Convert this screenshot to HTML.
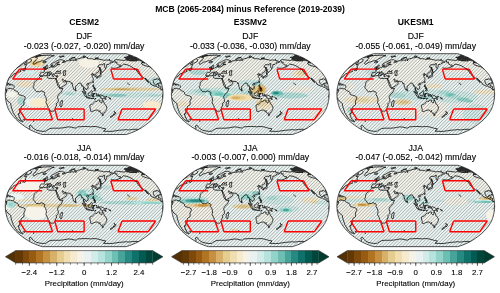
<!DOCTYPE html>
<html><head><meta charset="utf-8"><title>MCB precipitation</title>
<style>
html,body{margin:0;padding:0;background:#fff;width:500px;height:293px;overflow:hidden}
svg{display:block}
text{font-family:"Liberation Sans",Arial,sans-serif;fill:#000}
.t0{font-size:8.6px;font-weight:bold;text-anchor:middle}
.th{font-size:8.6px;font-weight:bold;text-anchor:middle}
.ts{font-size:8.72px;text-anchor:middle;stroke:#000;stroke-width:0.12px}
.tl{font-size:7.9px;text-anchor:middle;stroke:#000;stroke-width:0.1px}
</style></head><body>
<svg width="500" height="293" viewBox="0 0 500 293">
<defs>
<filter id="bl" x="-20%" y="-50%" width="140%" height="200%"><feGaussianBlur stdDeviation="0.7"/></filter>
<path id="bnd" d="M41.99 -40.4L43.57 -39.92L45.15 -39.43L47.08 -38.69L49.02 -37.95L51.07 -37.03L53.12 -36.1L54.91 -35.09L56.7 -34.08L58.32 -33L59.94 -31.93L61.47 -30.8L63.01 -29.68L64.45 -28.51L65.88 -27.35L67.18 -26.15L68.48 -24.95L69.59 -23.73L70.71 -22.51L71.71 -21.27L72.71 -20.03L73.55 -18.78L74.38 -17.53L75.06 -16.28L75.74 -15.03L76.26 -13.78L76.77 -12.52L77.13 -11.27L77.5 -10.02L77.8 -8.77L78.11 -7.51L78.32 -6.26L78.54 -5.01L78.66 -3.76L78.79 -2.5L78.84 -1.25L78.9 0L78.84 1.25L78.79 2.5L78.66 3.76L78.54 5.01L78.32 6.26L78.11 7.51L77.8 8.77L77.5 10.02L77.13 11.27L76.77 12.52L76.26 13.78L75.74 15.03L75.06 16.28L74.38 17.53L73.55 18.78L72.71 20.03L71.71 21.27L70.71 22.51L69.59 23.73L68.48 24.95L67.18 26.15L65.88 27.35L64.45 28.51L63.01 29.68L61.47 30.8L59.94 31.93L58.32 33L56.7 34.08L54.91 35.09L53.12 36.1L51.07 37.03L49.02 37.95L47.08 38.69L45.15 39.43L43.57 39.92L41.99 40.4L-41.99 40.4L-43.57 39.92L-45.15 39.43L-47.08 38.69L-49.02 37.95L-51.07 37.03L-53.12 36.1L-54.91 35.09L-56.7 34.08L-58.32 33L-59.94 31.93L-61.47 30.8L-63.01 29.68L-64.45 28.51L-65.88 27.35L-67.18 26.15L-68.48 24.95L-69.59 23.73L-70.71 22.51L-71.71 21.27L-72.71 20.03L-73.55 18.78L-74.38 17.53L-75.06 16.28L-75.74 15.03L-76.26 13.78L-76.77 12.52L-77.13 11.27L-77.5 10.02L-77.8 8.77L-78.11 7.51L-78.32 6.26L-78.54 5.01L-78.66 3.76L-78.79 2.5L-78.84 1.25L-78.9 0L-78.84 -1.25L-78.79 -2.5L-78.66 -3.76L-78.54 -5.01L-78.32 -6.26L-78.11 -7.51L-77.8 -8.77L-77.5 -10.02L-77.13 -11.27L-76.77 -12.52L-76.26 -13.78L-75.74 -15.03L-75.06 -16.28L-74.38 -17.53L-73.55 -18.78L-72.71 -20.03L-71.71 -21.27L-70.71 -22.51L-69.59 -23.73L-68.48 -24.95L-67.18 -26.15L-65.88 -27.35L-64.45 -28.51L-63.01 -29.68L-61.47 -30.8L-59.94 -31.93L-58.32 -33L-56.7 -34.08L-54.91 -35.09L-53.12 -36.1L-51.07 -37.03L-49.02 -37.95L-47.08 -38.69L-45.15 -39.43L-43.57 -39.92L-41.99 -40.4Z"/>
<clipPath id="clip"><path d="M41.99 -40.4L43.57 -39.92L45.15 -39.43L47.08 -38.69L49.02 -37.95L51.07 -37.03L53.12 -36.1L54.91 -35.09L56.7 -34.08L58.32 -33L59.94 -31.93L61.47 -30.8L63.01 -29.68L64.45 -28.51L65.88 -27.35L67.18 -26.15L68.48 -24.95L69.59 -23.73L70.71 -22.51L71.71 -21.27L72.71 -20.03L73.55 -18.78L74.38 -17.53L75.06 -16.28L75.74 -15.03L76.26 -13.78L76.77 -12.52L77.13 -11.27L77.5 -10.02L77.8 -8.77L78.11 -7.51L78.32 -6.26L78.54 -5.01L78.66 -3.76L78.79 -2.5L78.84 -1.25L78.9 0L78.84 1.25L78.79 2.5L78.66 3.76L78.54 5.01L78.32 6.26L78.11 7.51L77.8 8.77L77.5 10.02L77.13 11.27L76.77 12.52L76.26 13.78L75.74 15.03L75.06 16.28L74.38 17.53L73.55 18.78L72.71 20.03L71.71 21.27L70.71 22.51L69.59 23.73L68.48 24.95L67.18 26.15L65.88 27.35L64.45 28.51L63.01 29.68L61.47 30.8L59.94 31.93L58.32 33L56.7 34.08L54.91 35.09L53.12 36.1L51.07 37.03L49.02 37.95L47.08 38.69L45.15 39.43L43.57 39.92L41.99 40.4L-41.99 40.4L-43.57 39.92L-45.15 39.43L-47.08 38.69L-49.02 37.95L-51.07 37.03L-53.12 36.1L-54.91 35.09L-56.7 34.08L-58.32 33L-59.94 31.93L-61.47 30.8L-63.01 29.68L-64.45 28.51L-65.88 27.35L-67.18 26.15L-68.48 24.95L-69.59 23.73L-70.71 22.51L-71.71 21.27L-72.71 20.03L-73.55 18.78L-74.38 17.53L-75.06 16.28L-75.74 15.03L-76.26 13.78L-76.77 12.52L-77.13 11.27L-77.5 10.02L-77.8 8.77L-78.11 7.51L-78.32 6.26L-78.54 5.01L-78.66 3.76L-78.79 2.5L-78.84 1.25L-78.9 0L-78.84 -1.25L-78.79 -2.5L-78.66 -3.76L-78.54 -5.01L-78.32 -6.26L-78.11 -7.51L-77.8 -8.77L-77.5 -10.02L-77.13 -11.27L-76.77 -12.52L-76.26 -13.78L-75.74 -15.03L-75.06 -16.28L-74.38 -17.53L-73.55 -18.78L-72.71 -20.03L-71.71 -21.27L-70.71 -22.51L-69.59 -23.73L-68.48 -24.95L-67.18 -26.15L-65.88 -27.35L-64.45 -28.51L-63.01 -29.68L-61.47 -30.8L-59.94 -31.93L-58.32 -33L-56.7 -34.08L-54.91 -35.09L-53.12 -36.1L-51.07 -37.03L-49.02 -37.95L-47.08 -38.69L-45.15 -39.43L-43.57 -39.92L-41.99 -40.4Z"/></clipPath>
<path id="land" d="M-43.44 -18.03L-44.17 -17.03L-46.04 -15.28L-47.38 -14.03L-48.15 -13.53L-49.57 -12.02L-50.28 -10.52L-50.11 -9.77L-50.31 -8.27L-51.01 -7.36L-50.78 -6.26L-50.12 -5.51L-49.45 -4.76L-48.74 -3.51L-47.28 -2.2L-45.96 -2.55L-44.65 -2.35L-43.08 -3.06L-41.77 -3.16L-41.15 -2.15L-40.06 -2.25L-39.63 -1.75L-39.53 -0.5L-39.74 0.75L-38.61 2.25L-38.36 3.01L-37.9 4.51L-37.66 6.01L-38.1 7.51L-38.12 8.77L-36.62 11.42L-35.97 13.53L-35.27 14.33L-34.24 15.78L-33.84 17.03L-33.08 17.43L-32.14 17.03L-30.81 17.03L-30.02 16.28L-29.25 15.03L-28.6 13.78L-28.71 12.77L-27.56 12.02L-27.73 10.77L-28.12 9.92L-27.3 8.92L-25.82 7.51L-25.95 5.26L-26.54 3.41L-26.62 2.35L-25.63 0.85L-24.76 -0.5L-23.66 -1.1L-22.77 -2.15L-22.07 -3.76L-21.25 -5.91L-23.98 -5.26L-24.7 -5.81L-25.01 -6.51L-26.01 -7.81L-26.56 -9.02L-26.99 -10.52L-27.56 -12.02L-27.96 -13.78L-28.41 -14.98L-28.35 -15.68L-29.78 -15.48L-31.38 -15.83L-33.57 -15.43L-33.48 -15.78L-35.37 -15.78L-36.84 -16.53L-37.05 -17.28L-36.45 -18.53L-36.89 -18.68L-38.94 -18.43L-40.63 -18.28L-42.13 -17.58L-43.44 -18.03ZM-22.07 6.01L-21.51 7.76L-21.72 8.52L-22.15 10.27L-22.56 12.52L-23.38 12.77L-24.08 11.77L-24.34 10.77L-23.96 9.77L-24.22 8.52L-23.19 7.87L-22.6 6.81L-22.07 6.01ZM-43.44 -18.03L-43.57 -18.43L-43.94 -18.63L-44.6 -18.53L-44.21 -19.38L-44.48 -19.43L-43.71 -20.53L-43.39 -21.27L-43.42 -21.52L-42.74 -21.86L-41.6 -21.76L-40.35 -21.71L-39.63 -22.75L-39.45 -23.09L-39.59 -23.58L-40.35 -23.97L-40.12 -24.27L-38.94 -24.32L-38.84 -24.8L-38.17 -24.71L-37.38 -25.05L-36.78 -25.48L-36.11 -25.67L-35.39 -26.39L-34.44 -26.63L-33.74 -26.82L-33.31 -27.58L-33.07 -28.19L-31.99 -28.61L-32.42 -27.91L-32.94 -27.35L-32.77 -27.06L-32.41 -26.96L-31.72 -26.87L-30.68 -27.11L-29.9 -27.06L-29.34 -27.3L-28.84 -27.49L-28.46 -28.19L-27.51 -28.28L-26.97 -28.7L-27.05 -29.17L-26.75 -29.4L-25.32 -29.44L-24.43 -29.68L-25.26 -29.9L-27.04 -29.58L-27.21 -30.13L-26.8 -30.94L-24.91 -31.93L-24.92 -32.27L-25.74 -32.19L-26.37 -31.7L-27.44 -31.16L-28.07 -30.8L-28.79 -29.99L-28.45 -29.63L-28.86 -29.21L-30.03 -28.28L-30.52 -27.86L-31.29 -27.53L-31.77 -27.53L-31.65 -27.91L-31.49 -28.61L-31.38 -29.26L-31.47 -29.44L-32.76 -28.79L-33.41 -28.89L-33.5 -29.3L-32.99 -29.9L-32.64 -30.53L-31.67 -30.94L-30.28 -31.48L-28.82 -32.36L-27.83 -33.05L-26.91 -33.43L-25.57 -33.99L-24.07 -34.32L-23.01 -34.48L-22.27 -34.44L-21.73 -34.08L-21.27 -33.78L-20.13 -33.65L-19.21 -33.13L-19.22 -32.66L-19.89 -32.44L-20.97 -32.57L-21.5 -32.31L-21.92 -31.7L-21.22 -31.43L-20.16 -31.75L-19.81 -31.93L-18.41 -32.44L-17.96 -33.39L-17.36 -33.3L-14.9 -33.43L-14.27 -33.39L-13.08 -33.6L-12.31 -33.99L-10.8 -33.78L-10.12 -33.35L-9.73 -34.2L-10.14 -34.68L-9.55 -35.29L-9.06 -35.41L-8.26 -35.21L-8.55 -34.48L-8.32 -33.48L-8.41 -33.09L-7.53 -34.97L-6.73 -35.01L-5.83 -35.53L-3.95 -35.66L-3.84 -36.1L-1.45 -36.47L0 -36.62L1.22 -37.1L2.01 -36.77L3.47 -36.58L3.77 -36.18L3.14 -35.7L4.08 -35.41L5.43 -35.45L6.97 -35.29L8.64 -35.29L9.08 -34.81L9.9 -34.64L10.96 -34.73L12.2 -35.09L14.07 -35.01L15.61 -34.68L17.75 -34.44L19.3 -33.91L20.91 -33.86L22.18 -34.12L23.99 -33.99L25.52 -33.6L27.54 -33L28.7 -32.74L29.58 -32.44L29.15 -32.14L28.84 -31.61L26.97 -31.93L26.27 -31.7L26.47 -30.8L25.3 -30.44L24.61 -29.68L22.62 -29.58L22.46 -28.75L22.58 -28.05L22.13 -26.87L21.41 -25.43L20.82 -26.39L20.14 -27.81L20.32 -28.75L20.7 -30.35L19.28 -30.44L18.67 -29.35L17.26 -29.35L15.13 -29.4L14.44 -28.75L13.6 -27.11L14.57 -26.87L15.37 -26.48L15.41 -24.95L15.44 -24.22L14.79 -23.24L14.03 -21.96L13.13 -21.42L12.34 -21.32L11.94 -20.48L11.34 -19.78L11.98 -18.68L12.13 -17.73L11.17 -17.33L10.93 -17.28L10.84 -18.63L10.29 -18.88L9.99 -19.88L8.77 -19.53L8.56 -20.48L8.98 -20.28L8.45 -20.38L7.88 -19.93L7.3 -19.63L7.2 -19.23L7.72 -18.78L8.45 -18.93L9.2 -18.73L8.06 -17.53L8.67 -16.28L9.18 -15.53L9.18 -14.98L9.24 -14.48L8.78 -13.53L8.35 -12.77L7.68 -12.27L7.06 -11.52L6.09 -11.17L5.15 -10.92L4.51 -10.62L4.16 -10.77L3.43 -10.82L2.84 -10.12L2.46 -9.52L2.85 -8.72L3.82 -7.71L4.05 -6.01L3.92 -5.61L3.05 -5.21L2.18 -4.31L2.09 -5.11L1.31 -5.51L1.09 -6.11L0.39 -6.36L0 -6.76L-0.35 -5.21L0.13 -3.81L0.57 -3.46L1.09 -3.01L1.49 -2.2L1.84 -0.7L1.53 -0.65L0.57 -1.4L0.18 -2.5L-0.61 -4.11L-0.65 -5.01L-0.78 -6.76L-1 -8.22L-2.47 -8.02L-2.37 -9.77L-3.27 -10.42L-3.52 -11.17L-4.2 -10.92L-5.06 -10.92L-5.63 -10.67L-6.46 -9.77L-7.66 -8.32L-8.54 -7.87L-8.61 -6.66L-8.77 -5.16L-9.52 -4.46L-9.83 -4.06L-10.34 -4.76L-10.88 -6.36L-11.48 -8.02L-11.73 -9.52L-11.68 -10.67L-12.68 -10.42L-13.29 -11.17L-12.76 -11.47L-13.47 -11.77L-13.99 -12.42L-14.23 -12.72L-15.34 -12.67L-16.41 -12.62L-18.13 -12.87L-18.45 -13.58L-19.32 -13.33L-20.32 -13.93L-20.83 -14.63L-21.52 -15.18L-21.89 -14.98L-21.8 -14.28L-21.38 -13.53L-20.99 -12.42L-20.71 -12.17L-19.65 -12.12L-18.58 -13.13L-18.6 -12.47L-17.66 -11.82L-17.23 -11.22L-17.85 -10.22L-18.24 -9.52L-19.22 -8.97L-20.71 -7.97L-22.29 -7.01L-23.92 -6.41L-24.58 -6.36L-24.82 -7.51L-24.85 -8.27L-25.46 -9.77L-26.1 -10.77L-26.29 -11.87L-26.7 -12.52L-27.42 -14.03L-27.67 -14.03L-27.64 -14.78L-28.37 -14.98L-28.35 -15.68L-27.56 -15.68L-27.08 -16.43L-26.43 -17.78L-26.24 -18.38L-26.85 -18.43L-27.75 -18.08L-28.53 -18.28L-29.31 -18.43L-29.79 -18.93L-29.8 -19.63L-29.76 -20.18L-31.02 -20.28L-31.27 -20.03L-30.98 -19.03L-31.81 -18.28L-32.07 -18.78L-31.99 -19.78L-32.51 -20.18L-32.2 -20.92L-33.28 -21.76L-33.88 -22.56L-34.39 -22.65L-34.57 -22.01L-34.26 -21.27L-33.67 -20.72L-32.91 -20.08L-33.68 -19.53L-34.04 -19.03L-34.37 -19.03L-34.05 -19.93L-34.43 -20.33L-35.07 -20.72L-35.46 -21.27L-35.5 -21.96L-35.95 -22.21L-36.58 -21.91L-37.32 -21.57L-37.83 -21.76L-38.54 -21.52L-38.69 -20.97L-39.85 -20.53L-40.61 -19.78L-40.56 -19.38L-41.13 -18.83L-41.87 -18.38L-42.81 -18.38L-43.44 -18.03ZM30.44 -32.19L31.28 -32.79L29.98 -33.6L31.3 -34.28L32.07 -34.6L34.47 -34.24L37.65 -33.91L39.82 -33.65L41.58 -34.08L44.6 -33.65L46.72 -33.22L48.97 -33.22L52.31 -33.13L52.27 -33.86L51.3 -34.68L54.47 -33.43L55.44 -33.86L58.31 -32.57L58.54 -31.48L57.48 -31.25L57.54 -30.13L59.15 -29.07L62.13 -28.05L65.15 -27.35L67.7 -25.67L66.77 -26.87L65.23 -28.75L62.16 -30.8L64.18 -30.58L65.86 -30.13L68.13 -28.98L68.06 -29.81L70.89 -28.51L73.2 -27.35L76.43 -25.91L76.1 -25.09L73.8 -24.95L75 -24.32L75.64 -23.48L77.93 -22.75L77.41 -22.26L76.73 -21.91L75.27 -21.76L76.08 -20.82L74.93 -20.28L75.21 -19.03L75.86 -17.78L76.17 -17.63L75.54 -16.93L74.92 -15.78L76.36 -13.53L76.56 -12.62L75.97 -12.92L75.2 -13.78L74.06 -15.03L73.11 -15.23L71.9 -15.13L71.94 -14.53L71.25 -14.68L69.93 -14.83L68.97 -13.78L69.37 -12.27L69.57 -11.02L70.72 -9.52L71.46 -9.12L72.92 -9.32L72.88 -10.52L74.27 -10.77L74.44 -9.27L74.39 -8.02L76.28 -7.92L76.72 -7.26L76.84 -5.51L77.71 -4.51L78.78 -4.76L79.69 -4.36L79.87 -3.51L79.54 -3.76L78.67 -3.66L77.75 -4.11L76.05 -5.01L75.91 -5.61L75.02 -6.51L73.2 -7.01L71.92 -8.02L70.87 -7.87L68.73 -8.77L66.52 -10.02L66.21 -11.27L64.74 -12.77L63.04 -14.03L61.52 -15.78L60.77 -15.88L62.24 -14.53L64.04 -12.27L64.43 -11.52L63.12 -12.52L61.77 -14.03L60.06 -15.78L59.53 -16.33L58.68 -17.03L57.71 -17.28L56.68 -18.28L56.11 -18.93L55.15 -19.78L54.17 -21.02L53.02 -23.09L52.01 -24.17L52.53 -24.36L50.97 -25.19L49.65 -25.67L47.77 -27.11L45.67 -28.28L44.08 -28.89L42.08 -29.58L40.61 -29.68L39.25 -30.04L38.43 -29.3L37.95 -28.51L37.21 -28.05L35.87 -27.35L35.09 -27.11L35.92 -27.81L36.52 -28.51L36.31 -29.07L34.74 -29.03L33.27 -29.9L32.45 -30.8L32.46 -31.25L33.14 -31.7L32.07 -31.79L30.44 -32.19ZM-88.67 -32.19L-86.01 -32.79L-84.84 -33.6L-81.38 -34.28L-79.47 -34.6L-78.35 -34.24L-76.26 -33.91L-74.87 -33.65L-71.82 -34.08L-70.09 -33.65L-69.27 -33.22L-67.02 -33.22L-63.94 -33.13L-61.77 -33.86L-59.95 -34.68L-60.87 -33.43L-58.61 -33.86L-59.62 -32.57L-62.57 -31.48L-64.24 -31.25L-67.25 -30.13L-68.36 -29.07L-67.91 -28.05L-66.61 -27.35L-67.7 -25.67L-66.03 -26.87L-63.09 -28.75L-60.79 -30.8L-59.38 -30.58L-58.93 -30.13L-59.61 -28.98L-57.59 -29.81L-58 -28.51L-58.56 -27.35L-58.45 -25.91L-60.54 -25.09L-63.15 -24.95L-63.11 -24.32L-64 -23.48L-63.05 -22.75L-64.41 -22.26L-65.65 -21.91L-67.35 -21.76L-68.07 -20.82L-70.1 -20.28L-71.55 -19.03L-72.56 -17.78L-72.45 -17.63L-73.88 -16.93L-75.75 -15.78L-76.36 -13.53L-76.9 -12.62L-77.24 -12.92L-77.32 -13.78L-77.43 -15.03L-78.16 -15.23L-79.47 -15.13L-79.96 -14.53L-80.53 -14.68L-81.72 -14.83L-83.54 -13.78L-84.31 -12.27L-84.84 -11.02L-84.52 -9.52L-83.98 -9.12L-82.41 -9.32L-81.82 -10.52L-80.28 -10.77L-80.92 -9.27L-81.58 -8.02L-79.75 -7.92L-79.59 -7.26L-80.06 -5.51L-79.46 -4.51L-78.34 -4.76L-77.51 -4.36L-77.51 -3.51L-77.79 -3.76L-78.67 -3.66L-79.5 -4.11L-81.02 -5.01L-80.96 -5.61L-81.54 -6.51L-83.19 -7.01L-84.05 -8.02L-85.18 -7.87L-86.88 -8.77L-88.47 -10.02L-88.06 -11.27L-88.59 -12.77L-89.27 -14.03L-89.15 -15.78L-89.79 -15.88L-89.66 -14.53L-89.65 -12.27L-89.69 -11.52L-90.42 -12.52L-90.54 -14.03L-90.61 -15.78L-90.54 -16.33L-90.62 -17.03L-91.32 -17.28L-91.08 -18.28L-90.79 -18.93L-90.62 -19.78L-89.65 -21.02L-87.33 -23.09L-86.37 -24.17L-85.5 -24.36L-85.46 -25.19L-85.75 -25.67L-84.51 -27.11L-83.79 -28.28L-83.89 -28.89L-84.17 -29.58L-85.41 -29.68L-85.79 -30.04L-88.5 -29.3L-90.94 -28.51L-92.83 -28.05L-95.89 -27.35L-97.19 -27.11L-94.7 -27.81L-92.37 -28.51L-91.21 -29.07L-92.88 -29.03L-92.14 -29.9L-90.5 -30.8L-89.26 -31.25L-87.36 -31.7L-88.18 -31.79L-88.67 -32.19ZM-77.52 -4.26L-76.82 -4.76L-76.53 -5.26L-74.87 -6.11L-74.66 -5.51L-74 -6.11L-73.26 -5.26L-71.51 -5.31L-70.59 -5.36L-70.1 -4.26L-69.08 -3.41L-67.8 -3.01L-66.54 -2.45L-66.11 -2L-65.72 -0.9L-65.75 0L-65.07 0.5L-63.3 1.15L-61.97 1.5L-60.65 1.85L-59.16 2.76L-58.91 3.76L-59.14 4.76L-59.86 6.01L-60.38 7.01L-60.08 8.77L-60.27 10.02L-60.48 11.02L-61.22 11.52L-61.84 11.62L-62.75 12.27L-63.08 13.28L-62.78 14.28L-63.22 15.28L-63.48 16.53L-63.68 17.43L-64.51 17.43L-64.79 18.03L-64.32 18.28L-64.19 19.13L-65.74 19.53L-65.35 20.33L-66.29 20.53L-65.34 21.27L-64.94 22.51L-65.26 23.14L-63.98 23.88L-63.93 25.05L-63.46 25.77L-62.86 26.1L-60.94 27.35L-61.4 27.58L-62.59 27.35L-65.13 26.15L-67.42 24.22L-68.74 22.01L-69.51 20.77L-71.05 18.53L-71.33 17.03L-72.17 15.03L-72.93 12.52L-73.49 9.27L-74.4 8.52L-76.46 7.01L-77.32 5.76L-78.44 3.76L-79.29 2.76L-78.95 1.75L-79.1 0.5L-78.89 -0.25L-78.34 -0.75L-77.73 -1.75L-77.51 -3.51L-77.52 -4.26ZM79.7 -4.26L80.31 -4.76L80.46 -5.26L81.83 -6.11L82.24 -5.51L82.7 -6.11L83.73 -5.26L85.46 -5.31L86.37 -5.36L87.13 -4.26L88.32 -3.41L89.68 -3.01L91.05 -2.45L91.51 -2L92 -0.9L92.05 0L92.68 0.5L94.4 1.15L95.7 1.5L96.99 1.85L98.37 2.76L98.42 3.76L97.98 4.76L96.87 6.01L96.01 7.01L95.53 8.77L94.72 10.02L93.93 11.02L92.9 11.52L92.22 11.62L90.93 12.27L89.84 13.28L89.32 14.28L88 15.28L86.37 16.53L85.19 17.43L84.36 17.43L83.3 18.03L83.44 18.28L82.44 19.13L80.35 19.53L79.6 20.33L78.34 20.53L78.09 21.27L76.48 22.51L75 23.14L74.94 23.88L72.82 25.05L71.73 25.77L71.6 26.1L70.82 27.35L69.79 27.58L69.18 27.35L69.23 26.15L70.88 24.22L73.48 22.01L74.72 20.77L76.37 18.53L77.97 17.03L79.32 15.03L80.61 12.52L81.87 9.27L81.33 8.52L79.93 7.01L79.5 5.76L78.88 3.76L78.24 2.76L78.69 1.75L78.66 0.5L78.89 -0.25L79.39 -0.75L79.92 -1.75L79.87 -3.51L79.7 -4.26ZM-48.53 -37.29L-44.78 -38.13L-42.2 -38.54L-37.8 -38.75L-33.45 -38.99L-31.65 -38.54L-29.78 -38.4L-32.4 -37.77L-34.3 -36.66L-35.41 -36.1L-37.21 -35.09L-38.19 -34.28L-40.69 -33.43L-42.53 -33.22L-44.9 -32.27L-46.62 -31.93L-48.74 -30.58L-50.23 -29.68L-50.71 -30.04L-51.22 -30.35L-50.63 -31.48L-50.07 -32.36L-49.84 -32.92L-48.11 -33.65L-48.2 -34.28L-47.59 -34.89L-46.64 -35.9L-46.78 -36.47L-48.73 -36.51L-48.8 -37.03L-48.53 -37.29ZM52.68 -35.49L56.43 -35.09L60.1 -34.28L64.86 -32.57L66.27 -31.03L64.19 -30.94L61.71 -31.61L61.93 -32.14L58.64 -33.22L55.61 -34.16L52.53 -34.68L52.68 -35.49ZM-55.7 -35.49L-53.38 -35.09L-52.58 -34.28L-53.07 -32.57L-56.07 -31.03L-58.4 -30.94L-59.03 -31.61L-57.3 -32.14L-57.35 -33.22L-57.5 -34.16L-58.71 -34.68L-55.7 -35.49ZM43.88 -34.68L45.46 -35.29L48.18 -35.29L50.37 -33.86L48.85 -33.56L45.46 -33.73L43.88 -34.68ZM48.62 -36.84L52.05 -36.58L51.64 -37.4L51.88 -38.1L52.22 -38.54L49.29 -38.84L45.78 -38.69L45.03 -38.25L48.62 -36.84ZM-54.34 -36.84L-52.05 -36.58L-48.85 -37.4L-45.39 -38.1L-42.72 -38.54L-44.1 -38.84L-48.39 -38.69L-51.46 -38.25L-54.34 -36.84ZM41.45 -34.89L42.18 -35.9L43.47 -35.41L43.85 -34.48L41.56 -34.81L41.45 -34.89ZM48.43 -36.66L52.05 -36.58L53.11 -35.94L49.71 -36.02L48.43 -36.66ZM41.55 -36.47L45.03 -36.47L46.05 -35.9L42.31 -36.02L41.55 -36.47ZM57.61 -31.93L59.58 -31.7L60.86 -31.25L58.65 -31.39L57.61 -31.93ZM-41.21 -31.48L-41.07 -32.14L-40.01 -32.53L-38 -32.57L-37.75 -32.01L-38.61 -31.57L-40.17 -31.21L-41.21 -31.48ZM-40.18 -25L-37.16 -25.48L-36.63 -26.24L-36.92 -26.63L-36.78 -27.11L-36.99 -27.63L-36.69 -28.37L-36.42 -28.56L-36.69 -29.03L-37.22 -29.03L-38.02 -28.51L-38.31 -27.81L-38.39 -27.35L-37.82 -27.16L-38.28 -26.53L-38.83 -26.48L-38.95 -26.05L-39.51 -25.77L-38.77 -25.62L-40.18 -25ZM-39.65 -26.01L-39.18 -26.87L-38.74 -27.2L-39.17 -27.49L-39.9 -27.06L-40.62 -26.87L-41.21 -25.91L-41.22 -25.67L-40.56 -25.77L-39.65 -26.01ZM12.39 -16.73L12.78 -15.63L13.18 -15.83L13.32 -16.93L14.4 -16.93L14.87 -16.78L15.29 -17.18L16.05 -17.38L16.49 -17.53L16.81 -17.88L16.75 -18.53L16.72 -19.23L17 -19.83L16.6 -20.72L16.17 -20.62L16.13 -20.18L16.17 -19.38L15.83 -18.93L15.29 -18.43L15.05 -18.68L14.85 -18.03L14.38 -17.83L13.6 -17.83L13.04 -17.33L12.82 -17.03L12.39 -16.73ZM16.03 -20.77L16.36 -20.92L17.26 -21.02L18.05 -21.66L17.87 -22.16L16.45 -22.75L16.5 -21.66L15.98 -21.66L16.03 -20.77ZM16.39 -23L16.96 -23.09L16.52 -24.56L17.01 -24.61L16.25 -25.67L15.71 -27.01L15.54 -26.96L15.66 -25.91L16.12 -24.46L16.39 -23ZM8.61 -11.52L8.88 -11.02L9.2 -11.52L9.38 -12.52L8.95 -12.57L8.61 -11.52ZM3.71 -9.62L4.1 -9.12L4.53 -9.32L4.74 -9.87L4.35 -10.07L3.71 -9.62ZM8.89 -9.27L9.58 -9.27L9.52 -8.27L9.37 -7.76L9.56 -7.01L10.43 -6.91L10.44 -6.26L9.78 -6.81L9.13 -6.81L8.95 -7.16L8.58 -8.02L8.89 -9.27ZM9.62 -3.51L10.27 -4.01L11.13 -4.86L11.62 -3.76L11.15 -3.01L10.5 -3.26L9.62 -3.51ZM10.57 -6.26L11.2 -5.76L10.91 -5.01L10.47 -5.26L10.57 -6.26ZM9.8 -5.91L10.24 -5.51L10.13 -4.76L9.81 -5.26L9.8 -5.91ZM-2.06 -2.81L-1.09 -2.6L0.13 -1.15L1.67 0.5L2.63 1.5L2.54 2.91L1.97 2.96L1.01 2L0.13 0.5L-0.57 -0.85L-2.06 -2.81ZM2.27 3.41L2.62 3.01L3.63 3.11L4.59 3.46L5.51 3.46L6.29 3.91L6.29 4.36L4.81 4.11L3.5 3.91L2.84 3.71L2.27 3.41ZM3.94 -0.75L4.21 -1L4.82 -0.8L5.69 -1.55L6.74 -2.5L7.34 -3.46L8.4 -2.6L7.88 -2.2L7.71 -1.75L7.8 -0.5L8.24 -0.5L7.23 1L7.01 1.85L6.35 2L5.12 1.5L4.47 1.45L4.38 0.75L3.94 0.25L3.94 -0.75ZM8.53 2.76L8.93 2.81L8.89 1.5L9.32 2.35L9.98 2.4L9.29 1.25L9.86 0.5L9.33 0.5L8.85 -0.25L9.64 -0.5L10.95 -0.75L10.65 -0.2L9.07 -0.25L8.76 0.5L8.45 1.75L8.53 2.76ZM13.58 0.65L14.24 0.2L14.99 0.5L15.33 1.65L16.65 0.8L17.96 1.3L19.49 1.9L20.13 2.76L20.78 3.01L20.88 4.01L21.6 4.91L22.11 5.26L20.51 5.01L20.09 4.26L19.23 3.91L18.77 4.56L17.9 4.56L17.04 4.06L16.6 4.21L16.5 2.6L15.32 2.2L14.45 2.05L14.02 1.4L14.54 1.15L13.58 0.65ZM10.25 5.16L11 4.51L11.88 4.21L10.91 4.91L10.25 5.16ZM6.99 4.21L8.3 4.16L9.83 4.11L8.3 4.41L6.99 4.51L6.99 4.21ZM12.05 -0.75L12.49 -0.5L12.27 0L12.58 0.4L12.05 0.25L12.05 -0.75ZM12.22 1.6L13.49 1.7L13.35 1.9L12.35 1.8L12.22 1.6ZM21.14 2.76L22.1 2.5L22.77 2.1L22.54 2.76L21.43 3.11L21.14 2.76ZM24.48 3.41L25.35 3.76L26.2 4.26L26.83 5.01L25.75 4.76L24.48 3.41ZM-8.82 -4.01L-8.73 -4.91L-8.17 -4.26L-7.96 -3.61L-8.31 -3.06L-8.75 -3.01L-8.82 -4.01ZM5.79 11.02L6.09 10.92L7.18 10.32L8.61 9.92L9.28 9.27L9.65 8.52L10.22 8.12L10.85 7.26L11.69 6.91L12.28 7.51L12.8 7.46L13.13 6.51L13.49 6.11L14.19 6.06L15.11 6.01L15.89 6.01L15.65 6.66L15.41 7.41L16.25 8.02L16.99 8.72L17.64 8.72L18.01 7.51L18.1 6.26L18.53 5.36L18.9 7.01L19.66 7.51L19.88 8.77L19.97 9.52L21 10.17L21.68 11.27L22.57 12.77L22.64 14.33L22.22 15.53L21.89 16.28L21.01 17.43L20.43 18.78L19.36 19.03L18.78 19.58L18.25 19.13L17.09 19.23L16.51 19.03L16.21 18.28L15.87 17.83L15.81 17.28L15.75 16.43L15.55 17.03L15.36 16.93L14.88 17.48L14.57 17.28L14.16 16.43L13.02 15.78L11.27 16.18L9.99 16.53L9.04 16.98L7.44 17.53L6.55 17.18L6.23 16.78L6.57 15.78L6.29 14.53L5.7 13.13L5.77 12.02L5.79 11.02ZM17.95 20.38L19.41 20.48L19.24 21.12L18.76 21.66L18.22 21.76L18.03 21.17L17.95 20.38ZM30.11 17.23L30.65 18.03L31.04 18.53L32.05 18.88L31.19 19.73L30.77 20.43L30.11 20.82L30.16 19.93L29.92 19.63L30.55 18.53L30.11 17.23ZM29.29 20.28L29.69 20.87L29.2 21.52L28.75 21.91L28.05 22.26L27.58 22.95L26.83 23.29L25.96 23L27.06 22.01L28.29 21.27L29.29 20.28ZM75.12 -10.97L76.6 -11.62L78.54 -10.87L80.01 -10.12L78.51 -9.92L77.23 -10.92L76.1 -11.12L75.12 -10.97ZM-79.32 -10.97L-77.46 -11.62L-75.96 -10.87L-74.93 -10.12L-76.53 -9.92L-77.23 -10.92L-78.25 -11.12L-79.32 -10.97ZM-75.26 -9.27L-74.41 -9.97L-73.21 -9.92L-72.62 -9.32L-73.85 -9.02L-75.26 -9.27ZM-61.55 -23.78L-58.44 -25.72L-58.4 -24.71L-59 -23.73L-59.69 -23.29L-60.28 -23.78L-61.55 -23.78ZM49.8 -25.33L52.51 -24.17L51.53 -24.41L49.8 -25.33ZM-14.83 -34.68L-13.43 -35.41L-11.95 -36.4L-9.02 -36.8L-11.51 -36.1L-13.03 -35.29L-13.58 -34.36L-14.83 -34.68ZM-24.85 -37.4L-22.88 -37.95L-21.14 -38.04L-19.88 -37.95L-22.51 -37.21L-23.93 -36.66L-24.85 -37.4ZM-1.38 -37.58L0 -38.25L1.38 -37.58L0 -37.21L-1.38 -37.58ZM10.77 -35.7L12.3 -36.29L14.46 -36.1L12.64 -35.49L10.77 -35.7ZM25.03 -34.68L25.75 -34.56L25.07 -34.44L25.03 -34.68ZM-35.71 -19.03L-34.38 -19.13L-34.82 -18.38L-35.78 -18.83L-35.71 -19.03ZM-36.88 -20.53L-36.24 -20.53L-36.69 -19.53L-37.17 -19.53L-36.88 -20.53ZM-36.33 -21.47L-35.99 -21.52L-36.26 -20.77L-36.54 -20.87L-36.33 -21.47ZM-31.54 -17.78L-30.43 -17.63L-31.2 -17.53L-31.54 -17.78ZM-27.97 -17.53L-26.99 -17.83L-27.73 -17.33L-27.97 -17.53ZM44.76 -10.12L45.24 -9.77L44.94 -9.47L44.76 -10.12ZM-50.91 26.87L-50.09 26.96L-50.22 27.25L-50.91 26.87ZM-11.87 24.46L-11.28 24.56L-11.62 24.85L-11.87 24.46ZM-60.76 25.57L-59.52 25.57L-59.29 26.01L-60.32 25.91L-60.76 25.57ZM45.69 -37.58L48.29 -37.4L47.01 -38.1L44.81 -38.34L44.04 -38.1L45.69 -37.58ZM47.87 -35.49L48.88 -35.62L50.2 -34.89L49.75 -34.68L48.5 -35.09L47.87 -35.49ZM49.2 -35.7L50.83 -35.62L51.27 -34.89L50.18 -35.09L49.2 -35.7ZM46.49 -36.47L46.99 -36.66L48.39 -36.1L47.36 -36.1L46.49 -36.47ZM40.04 -36.84L41.8 -36.66L41.68 -36.4L40.19 -36.58L40.04 -36.84ZM51.16 -33.86L51.78 -33.99L52.38 -33.43L51.57 -33.56L51.16 -33.86ZM-72.17 -9.22L-71.48 -9.22L-71.57 -9.02L-72.21 -9.02L-72.17 -9.22ZM-76.96 -9.22L-76.12 -9.12L-76.38 -8.92L-76.87 -9.07L-76.96 -9.22Z"/>
<path id="caa" d="M43.23 -34.48L39.75 -36.84L41.87 -37.4L43.23 -38.1L44.31 -38.54L46.57 -38.84L55.11 -34.89L53.84 -34.28L52.57 -33.65L49.1 -33.86L45.38 -34.28L43.23 -34.48Z" fill="#2a2a2a"/>
<path id="coast" d="M-43.44 -18.03L-44.17 -17.03L-46.04 -15.28L-47.38 -14.03L-48.15 -13.53L-49.57 -12.02L-50.28 -10.52L-50.11 -9.77L-50.31 -8.27L-51.01 -7.36L-50.78 -6.26L-50.12 -5.51L-49.45 -4.76L-48.74 -3.51L-47.28 -2.2L-45.96 -2.55L-44.65 -2.35L-43.08 -3.06L-41.77 -3.16L-41.15 -2.15L-40.06 -2.25L-39.63 -1.75L-39.53 -0.5L-39.74 0.75L-38.61 2.25L-38.36 3.01L-37.9 4.51L-37.66 6.01L-38.1 7.51L-38.12 8.77L-36.62 11.42L-35.97 13.53L-35.27 14.33L-34.24 15.78L-33.84 17.03L-33.08 17.43L-32.14 17.03L-30.81 17.03L-30.02 16.28L-29.25 15.03L-28.6 13.78L-28.71 12.77L-27.56 12.02L-27.73 10.77L-28.12 9.92L-27.3 8.92L-25.82 7.51L-25.95 5.26L-26.54 3.41L-26.62 2.35L-25.63 0.85L-24.76 -0.5L-23.66 -1.1L-22.77 -2.15L-22.07 -3.76L-21.25 -5.91L-23.98 -5.26L-24.7 -5.81L-25.01 -6.51L-26.01 -7.81L-26.56 -9.02L-26.99 -10.52L-27.56 -12.02L-27.96 -13.78L-28.41 -14.98L-28.35 -15.68L-29.78 -15.48L-31.38 -15.83L-33.57 -15.43L-33.48 -15.78L-35.37 -15.78L-36.84 -16.53L-37.05 -17.28L-36.45 -18.53L-36.89 -18.68L-38.94 -18.43L-40.63 -18.28L-42.13 -17.58L-43.44 -18.03ZM-22.07 6.01L-21.51 7.76L-21.72 8.52L-22.15 10.27L-22.56 12.52L-23.38 12.77L-24.08 11.77L-24.34 10.77L-23.96 9.77L-24.22 8.52L-23.19 7.87L-22.6 6.81L-22.07 6.01ZM-43.44 -18.03L-43.57 -18.43L-43.94 -18.63L-44.6 -18.53L-44.21 -19.38L-44.48 -19.43L-43.71 -20.53L-43.39 -21.27L-43.42 -21.52L-42.74 -21.86L-41.6 -21.76L-40.35 -21.71L-39.63 -22.75L-39.45 -23.09L-39.59 -23.58L-40.35 -23.97L-40.12 -24.27L-38.94 -24.32L-38.84 -24.8L-38.17 -24.71L-37.38 -25.05L-36.78 -25.48L-36.11 -25.67L-35.39 -26.39L-34.44 -26.63L-33.74 -26.82L-33.31 -27.58L-33.07 -28.19L-31.99 -28.61L-32.42 -27.91L-32.94 -27.35L-32.77 -27.06L-32.41 -26.96L-31.72 -26.87L-30.68 -27.11L-29.9 -27.06L-29.34 -27.3L-28.84 -27.49L-28.46 -28.19L-27.51 -28.28L-26.97 -28.7L-27.05 -29.17L-26.75 -29.4L-25.32 -29.44L-24.43 -29.68L-25.26 -29.9L-27.04 -29.58L-27.21 -30.13L-26.8 -30.94L-24.91 -31.93L-24.92 -32.27L-25.74 -32.19L-26.37 -31.7L-27.44 -31.16L-28.07 -30.8L-28.79 -29.99L-28.45 -29.63L-28.86 -29.21L-30.03 -28.28L-30.52 -27.86L-31.29 -27.53L-31.77 -27.53L-31.65 -27.91L-31.49 -28.61L-31.38 -29.26L-31.47 -29.44L-32.76 -28.79L-33.41 -28.89L-33.5 -29.3L-32.99 -29.9L-32.64 -30.53L-31.67 -30.94L-30.28 -31.48L-28.82 -32.36L-27.83 -33.05L-26.91 -33.43L-25.57 -33.99L-24.07 -34.32L-23.01 -34.48L-22.27 -34.44L-21.73 -34.08L-21.27 -33.78L-20.13 -33.65L-19.21 -33.13L-19.22 -32.66L-19.89 -32.44L-20.97 -32.57L-21.5 -32.31L-21.92 -31.7L-21.22 -31.43L-20.16 -31.75L-19.81 -31.93L-18.41 -32.44L-17.96 -33.39L-17.36 -33.3L-14.9 -33.43L-14.27 -33.39L-13.08 -33.6L-12.31 -33.99L-10.8 -33.78L-10.12 -33.35L-9.73 -34.2L-10.14 -34.68L-9.55 -35.29L-9.06 -35.41L-8.26 -35.21L-8.55 -34.48L-8.32 -33.48L-8.41 -33.09L-7.53 -34.97L-6.73 -35.01L-5.83 -35.53L-3.95 -35.66L-3.84 -36.1L-1.45 -36.47L0 -36.62L1.22 -37.1L2.01 -36.77L3.47 -36.58L3.77 -36.18L3.14 -35.7L4.08 -35.41L5.43 -35.45L6.97 -35.29L8.64 -35.29L9.08 -34.81L9.9 -34.64L10.96 -34.73L12.2 -35.09L14.07 -35.01L15.61 -34.68L17.75 -34.44L19.3 -33.91L20.91 -33.86L22.18 -34.12L23.99 -33.99L25.52 -33.6L27.54 -33L28.7 -32.74L29.58 -32.44L29.15 -32.14L28.84 -31.61L26.97 -31.93L26.27 -31.7L26.47 -30.8L25.3 -30.44L24.61 -29.68L22.62 -29.58L22.46 -28.75L22.58 -28.05L22.13 -26.87L21.41 -25.43L20.82 -26.39L20.14 -27.81L20.32 -28.75L20.7 -30.35L19.28 -30.44L18.67 -29.35L17.26 -29.35L15.13 -29.4L14.44 -28.75L13.6 -27.11L14.57 -26.87L15.37 -26.48L15.41 -24.95L15.44 -24.22L14.79 -23.24L14.03 -21.96L13.13 -21.42L12.34 -21.32L11.94 -20.48L11.34 -19.78L11.98 -18.68L12.13 -17.73L11.17 -17.33L10.93 -17.28L10.84 -18.63L10.29 -18.88L9.99 -19.88L8.77 -19.53L8.56 -20.48L8.98 -20.28L8.45 -20.38L7.88 -19.93L7.3 -19.63L7.2 -19.23L7.72 -18.78L8.45 -18.93L9.2 -18.73L8.06 -17.53L8.67 -16.28L9.18 -15.53L9.18 -14.98L9.24 -14.48L8.78 -13.53L8.35 -12.77L7.68 -12.27L7.06 -11.52L6.09 -11.17L5.15 -10.92L4.51 -10.62L4.16 -10.77L3.43 -10.82L2.84 -10.12L2.46 -9.52L2.85 -8.72L3.82 -7.71L4.05 -6.01L3.92 -5.61L3.05 -5.21L2.18 -4.31L2.09 -5.11L1.31 -5.51L1.09 -6.11L0.39 -6.36L0 -6.76L-0.35 -5.21L0.13 -3.81L0.57 -3.46L1.09 -3.01L1.49 -2.2L1.84 -0.7L1.53 -0.65L0.57 -1.4L0.18 -2.5L-0.61 -4.11L-0.65 -5.01L-0.78 -6.76L-1 -8.22L-2.47 -8.02L-2.37 -9.77L-3.27 -10.42L-3.52 -11.17L-4.2 -10.92L-5.06 -10.92L-5.63 -10.67L-6.46 -9.77L-7.66 -8.32L-8.54 -7.87L-8.61 -6.66L-8.77 -5.16L-9.52 -4.46L-9.83 -4.06L-10.34 -4.76L-10.88 -6.36L-11.48 -8.02L-11.73 -9.52L-11.68 -10.67L-12.68 -10.42L-13.29 -11.17L-12.76 -11.47L-13.47 -11.77L-13.99 -12.42L-14.23 -12.72L-15.34 -12.67L-16.41 -12.62L-18.13 -12.87L-18.45 -13.58L-19.32 -13.33L-20.32 -13.93L-20.83 -14.63L-21.52 -15.18L-21.89 -14.98L-21.8 -14.28L-21.38 -13.53L-20.99 -12.42L-20.71 -12.17L-19.65 -12.12L-18.58 -13.13L-18.6 -12.47L-17.66 -11.82L-17.23 -11.22L-17.85 -10.22L-18.24 -9.52L-19.22 -8.97L-20.71 -7.97L-22.29 -7.01L-23.92 -6.41L-24.58 -6.36L-24.82 -7.51L-24.85 -8.27L-25.46 -9.77L-26.1 -10.77L-26.29 -11.87L-26.7 -12.52L-27.42 -14.03L-27.67 -14.03L-27.64 -14.78L-28.37 -14.98L-28.35 -15.68L-27.56 -15.68L-27.08 -16.43L-26.43 -17.78L-26.24 -18.38L-26.85 -18.43L-27.75 -18.08L-28.53 -18.28L-29.31 -18.43L-29.79 -18.93L-29.8 -19.63L-29.76 -20.18L-31.02 -20.28L-31.27 -20.03L-30.98 -19.03L-31.81 -18.28L-32.07 -18.78L-31.99 -19.78L-32.51 -20.18L-32.2 -20.92L-33.28 -21.76L-33.88 -22.56L-34.39 -22.65L-34.57 -22.01L-34.26 -21.27L-33.67 -20.72L-32.91 -20.08L-33.68 -19.53L-34.04 -19.03L-34.37 -19.03L-34.05 -19.93L-34.43 -20.33L-35.07 -20.72L-35.46 -21.27L-35.5 -21.96L-35.95 -22.21L-36.58 -21.91L-37.32 -21.57L-37.83 -21.76L-38.54 -21.52L-38.69 -20.97L-39.85 -20.53L-40.61 -19.78L-40.56 -19.38L-41.13 -18.83L-41.87 -18.38L-42.81 -18.38L-43.44 -18.03ZM30.44 -32.19L31.28 -32.79L29.98 -33.6L31.3 -34.28L32.07 -34.6L34.47 -34.24L37.65 -33.91L39.82 -33.65L41.58 -34.08L44.6 -33.65L46.72 -33.22L48.97 -33.22L52.31 -33.13L52.27 -33.86L51.3 -34.68L54.47 -33.43L55.44 -33.86L58.31 -32.57L58.54 -31.48L57.48 -31.25L57.54 -30.13L59.15 -29.07L62.13 -28.05L65.15 -27.35L67.7 -25.67L66.77 -26.87L65.23 -28.75L62.16 -30.8L64.18 -30.58L65.86 -30.13L68.13 -28.98L68.06 -29.81L70.89 -28.51L73.2 -27.35L76.43 -25.91L76.1 -25.09L73.8 -24.95L75 -24.32L75.64 -23.48L77.93 -22.75L77.41 -22.26L76.73 -21.91L75.27 -21.76L76.08 -20.82L74.93 -20.28L75.21 -19.03L75.86 -17.78L76.17 -17.63L75.54 -16.93L74.92 -15.78L76.36 -13.53L76.56 -12.62L75.97 -12.92L75.2 -13.78L74.06 -15.03L73.11 -15.23L71.9 -15.13L71.94 -14.53L71.25 -14.68L69.93 -14.83L68.97 -13.78L69.37 -12.27L69.57 -11.02L70.72 -9.52L71.46 -9.12L72.92 -9.32L72.88 -10.52L74.27 -10.77L74.44 -9.27L74.39 -8.02L76.28 -7.92L76.72 -7.26L76.84 -5.51L77.71 -4.51L78.78 -4.76L79.69 -4.36L79.87 -3.51L79.54 -3.76L78.67 -3.66L77.75 -4.11L76.05 -5.01L75.91 -5.61L75.02 -6.51L73.2 -7.01L71.92 -8.02L70.87 -7.87L68.73 -8.77L66.52 -10.02L66.21 -11.27L64.74 -12.77L63.04 -14.03L61.52 -15.78L60.77 -15.88L62.24 -14.53L64.04 -12.27L64.43 -11.52L63.12 -12.52L61.77 -14.03L60.06 -15.78L59.53 -16.33L58.68 -17.03L57.71 -17.28L56.68 -18.28L56.11 -18.93L55.15 -19.78L54.17 -21.02L53.02 -23.09L52.01 -24.17L52.53 -24.36L50.97 -25.19L49.65 -25.67L47.77 -27.11L45.67 -28.28L44.08 -28.89L42.08 -29.58L40.61 -29.68L39.25 -30.04L38.43 -29.3L37.95 -28.51L37.21 -28.05L35.87 -27.35L35.09 -27.11L35.92 -27.81L36.52 -28.51L36.31 -29.07L34.74 -29.03L33.27 -29.9L32.45 -30.8L32.46 -31.25L33.14 -31.7L32.07 -31.79L30.44 -32.19ZM-88.67 -32.19L-86.01 -32.79L-84.84 -33.6L-81.38 -34.28L-79.47 -34.6L-78.35 -34.24L-76.26 -33.91L-74.87 -33.65L-71.82 -34.08L-70.09 -33.65L-69.27 -33.22L-67.02 -33.22L-63.94 -33.13L-61.77 -33.86L-59.95 -34.68L-60.87 -33.43L-58.61 -33.86L-59.62 -32.57L-62.57 -31.48L-64.24 -31.25L-67.25 -30.13L-68.36 -29.07L-67.91 -28.05L-66.61 -27.35L-67.7 -25.67L-66.03 -26.87L-63.09 -28.75L-60.79 -30.8L-59.38 -30.58L-58.93 -30.13L-59.61 -28.98L-57.59 -29.81L-58 -28.51L-58.56 -27.35L-58.45 -25.91L-60.54 -25.09L-63.15 -24.95L-63.11 -24.32L-64 -23.48L-63.05 -22.75L-64.41 -22.26L-65.65 -21.91L-67.35 -21.76L-68.07 -20.82L-70.1 -20.28L-71.55 -19.03L-72.56 -17.78L-72.45 -17.63L-73.88 -16.93L-75.75 -15.78L-76.36 -13.53L-76.9 -12.62L-77.24 -12.92L-77.32 -13.78L-77.43 -15.03L-78.16 -15.23L-79.47 -15.13L-79.96 -14.53L-80.53 -14.68L-81.72 -14.83L-83.54 -13.78L-84.31 -12.27L-84.84 -11.02L-84.52 -9.52L-83.98 -9.12L-82.41 -9.32L-81.82 -10.52L-80.28 -10.77L-80.92 -9.27L-81.58 -8.02L-79.75 -7.92L-79.59 -7.26L-80.06 -5.51L-79.46 -4.51L-78.34 -4.76L-77.51 -4.36L-77.51 -3.51L-77.79 -3.76L-78.67 -3.66L-79.5 -4.11L-81.02 -5.01L-80.96 -5.61L-81.54 -6.51L-83.19 -7.01L-84.05 -8.02L-85.18 -7.87L-86.88 -8.77L-88.47 -10.02L-88.06 -11.27L-88.59 -12.77L-89.27 -14.03L-89.15 -15.78L-89.79 -15.88L-89.66 -14.53L-89.65 -12.27L-89.69 -11.52L-90.42 -12.52L-90.54 -14.03L-90.61 -15.78L-90.54 -16.33L-90.62 -17.03L-91.32 -17.28L-91.08 -18.28L-90.79 -18.93L-90.62 -19.78L-89.65 -21.02L-87.33 -23.09L-86.37 -24.17L-85.5 -24.36L-85.46 -25.19L-85.75 -25.67L-84.51 -27.11L-83.79 -28.28L-83.89 -28.89L-84.17 -29.58L-85.41 -29.68L-85.79 -30.04L-88.5 -29.3L-90.94 -28.51L-92.83 -28.05L-95.89 -27.35L-97.19 -27.11L-94.7 -27.81L-92.37 -28.51L-91.21 -29.07L-92.88 -29.03L-92.14 -29.9L-90.5 -30.8L-89.26 -31.25L-87.36 -31.7L-88.18 -31.79L-88.67 -32.19ZM-77.52 -4.26L-76.82 -4.76L-76.53 -5.26L-74.87 -6.11L-74.66 -5.51L-74 -6.11L-73.26 -5.26L-71.51 -5.31L-70.59 -5.36L-70.1 -4.26L-69.08 -3.41L-67.8 -3.01L-66.54 -2.45L-66.11 -2L-65.72 -0.9L-65.75 0L-65.07 0.5L-63.3 1.15L-61.97 1.5L-60.65 1.85L-59.16 2.76L-58.91 3.76L-59.14 4.76L-59.86 6.01L-60.38 7.01L-60.08 8.77L-60.27 10.02L-60.48 11.02L-61.22 11.52L-61.84 11.62L-62.75 12.27L-63.08 13.28L-62.78 14.28L-63.22 15.28L-63.48 16.53L-63.68 17.43L-64.51 17.43L-64.79 18.03L-64.32 18.28L-64.19 19.13L-65.74 19.53L-65.35 20.33L-66.29 20.53L-65.34 21.27L-64.94 22.51L-65.26 23.14L-63.98 23.88L-63.93 25.05L-63.46 25.77L-62.86 26.1L-60.94 27.35L-61.4 27.58L-62.59 27.35L-65.13 26.15L-67.42 24.22L-68.74 22.01L-69.51 20.77L-71.05 18.53L-71.33 17.03L-72.17 15.03L-72.93 12.52L-73.49 9.27L-74.4 8.52L-76.46 7.01L-77.32 5.76L-78.44 3.76L-79.29 2.76L-78.95 1.75L-79.1 0.5L-78.89 -0.25L-78.34 -0.75L-77.73 -1.75L-77.51 -3.51L-77.52 -4.26ZM79.7 -4.26L80.31 -4.76L80.46 -5.26L81.83 -6.11L82.24 -5.51L82.7 -6.11L83.73 -5.26L85.46 -5.31L86.37 -5.36L87.13 -4.26L88.32 -3.41L89.68 -3.01L91.05 -2.45L91.51 -2L92 -0.9L92.05 0L92.68 0.5L94.4 1.15L95.7 1.5L96.99 1.85L98.37 2.76L98.42 3.76L97.98 4.76L96.87 6.01L96.01 7.01L95.53 8.77L94.72 10.02L93.93 11.02L92.9 11.52L92.22 11.62L90.93 12.27L89.84 13.28L89.32 14.28L88 15.28L86.37 16.53L85.19 17.43L84.36 17.43L83.3 18.03L83.44 18.28L82.44 19.13L80.35 19.53L79.6 20.33L78.34 20.53L78.09 21.27L76.48 22.51L75 23.14L74.94 23.88L72.82 25.05L71.73 25.77L71.6 26.1L70.82 27.35L69.79 27.58L69.18 27.35L69.23 26.15L70.88 24.22L73.48 22.01L74.72 20.77L76.37 18.53L77.97 17.03L79.32 15.03L80.61 12.52L81.87 9.27L81.33 8.52L79.93 7.01L79.5 5.76L78.88 3.76L78.24 2.76L78.69 1.75L78.66 0.5L78.89 -0.25L79.39 -0.75L79.92 -1.75L79.87 -3.51L79.7 -4.26ZM-48.53 -37.29L-44.78 -38.13L-42.2 -38.54L-37.8 -38.75L-33.45 -38.99L-31.65 -38.54L-29.78 -38.4L-32.4 -37.77L-34.3 -36.66L-35.41 -36.1L-37.21 -35.09L-38.19 -34.28L-40.69 -33.43L-42.53 -33.22L-44.9 -32.27L-46.62 -31.93L-48.74 -30.58L-50.23 -29.68L-50.71 -30.04L-51.22 -30.35L-50.63 -31.48L-50.07 -32.36L-49.84 -32.92L-48.11 -33.65L-48.2 -34.28L-47.59 -34.89L-46.64 -35.9L-46.78 -36.47L-48.73 -36.51L-48.8 -37.03L-48.53 -37.29ZM52.68 -35.49L56.43 -35.09L60.1 -34.28L64.86 -32.57L66.27 -31.03L64.19 -30.94L61.71 -31.61L61.93 -32.14L58.64 -33.22L55.61 -34.16L52.53 -34.68L52.68 -35.49ZM-55.7 -35.49L-53.38 -35.09L-52.58 -34.28L-53.07 -32.57L-56.07 -31.03L-58.4 -30.94L-59.03 -31.61L-57.3 -32.14L-57.35 -33.22L-57.5 -34.16L-58.71 -34.68L-55.7 -35.49ZM43.88 -34.68L45.46 -35.29L48.18 -35.29L50.37 -33.86L48.85 -33.56L45.46 -33.73L43.88 -34.68ZM48.62 -36.84L52.05 -36.58L51.64 -37.4L51.88 -38.1L52.22 -38.54L49.29 -38.84L45.78 -38.69L45.03 -38.25L48.62 -36.84ZM-54.34 -36.84L-52.05 -36.58L-48.85 -37.4L-45.39 -38.1L-42.72 -38.54L-44.1 -38.84L-48.39 -38.69L-51.46 -38.25L-54.34 -36.84ZM41.45 -34.89L42.18 -35.9L43.47 -35.41L43.85 -34.48L41.56 -34.81L41.45 -34.89ZM48.43 -36.66L52.05 -36.58L53.11 -35.94L49.71 -36.02L48.43 -36.66ZM41.55 -36.47L45.03 -36.47L46.05 -35.9L42.31 -36.02L41.55 -36.47ZM57.61 -31.93L59.58 -31.7L60.86 -31.25L58.65 -31.39L57.61 -31.93ZM-41.21 -31.48L-41.07 -32.14L-40.01 -32.53L-38 -32.57L-37.75 -32.01L-38.61 -31.57L-40.17 -31.21L-41.21 -31.48ZM-40.18 -25L-37.16 -25.48L-36.63 -26.24L-36.92 -26.63L-36.78 -27.11L-36.99 -27.63L-36.69 -28.37L-36.42 -28.56L-36.69 -29.03L-37.22 -29.03L-38.02 -28.51L-38.31 -27.81L-38.39 -27.35L-37.82 -27.16L-38.28 -26.53L-38.83 -26.48L-38.95 -26.05L-39.51 -25.77L-38.77 -25.62L-40.18 -25ZM-39.65 -26.01L-39.18 -26.87L-38.74 -27.2L-39.17 -27.49L-39.9 -27.06L-40.62 -26.87L-41.21 -25.91L-41.22 -25.67L-40.56 -25.77L-39.65 -26.01ZM12.39 -16.73L12.78 -15.63L13.18 -15.83L13.32 -16.93L14.4 -16.93L14.87 -16.78L15.29 -17.18L16.05 -17.38L16.49 -17.53L16.81 -17.88L16.75 -18.53L16.72 -19.23L17 -19.83L16.6 -20.72L16.17 -20.62L16.13 -20.18L16.17 -19.38L15.83 -18.93L15.29 -18.43L15.05 -18.68L14.85 -18.03L14.38 -17.83L13.6 -17.83L13.04 -17.33L12.82 -17.03L12.39 -16.73ZM16.03 -20.77L16.36 -20.92L17.26 -21.02L18.05 -21.66L17.87 -22.16L16.45 -22.75L16.5 -21.66L15.98 -21.66L16.03 -20.77ZM16.39 -23L16.96 -23.09L16.52 -24.56L17.01 -24.61L16.25 -25.67L15.71 -27.01L15.54 -26.96L15.66 -25.91L16.12 -24.46L16.39 -23ZM8.61 -11.52L8.88 -11.02L9.2 -11.52L9.38 -12.52L8.95 -12.57L8.61 -11.52ZM3.71 -9.62L4.1 -9.12L4.53 -9.32L4.74 -9.87L4.35 -10.07L3.71 -9.62ZM8.89 -9.27L9.58 -9.27L9.52 -8.27L9.37 -7.76L9.56 -7.01L10.43 -6.91L10.44 -6.26L9.78 -6.81L9.13 -6.81L8.95 -7.16L8.58 -8.02L8.89 -9.27ZM9.62 -3.51L10.27 -4.01L11.13 -4.86L11.62 -3.76L11.15 -3.01L10.5 -3.26L9.62 -3.51ZM10.57 -6.26L11.2 -5.76L10.91 -5.01L10.47 -5.26L10.57 -6.26ZM9.8 -5.91L10.24 -5.51L10.13 -4.76L9.81 -5.26L9.8 -5.91ZM-2.06 -2.81L-1.09 -2.6L0.13 -1.15L1.67 0.5L2.63 1.5L2.54 2.91L1.97 2.96L1.01 2L0.13 0.5L-0.57 -0.85L-2.06 -2.81ZM2.27 3.41L2.62 3.01L3.63 3.11L4.59 3.46L5.51 3.46L6.29 3.91L6.29 4.36L4.81 4.11L3.5 3.91L2.84 3.71L2.27 3.41ZM3.94 -0.75L4.21 -1L4.82 -0.8L5.69 -1.55L6.74 -2.5L7.34 -3.46L8.4 -2.6L7.88 -2.2L7.71 -1.75L7.8 -0.5L8.24 -0.5L7.23 1L7.01 1.85L6.35 2L5.12 1.5L4.47 1.45L4.38 0.75L3.94 0.25L3.94 -0.75ZM8.53 2.76L8.93 2.81L8.89 1.5L9.32 2.35L9.98 2.4L9.29 1.25L9.86 0.5L9.33 0.5L8.85 -0.25L9.64 -0.5L10.95 -0.75L10.65 -0.2L9.07 -0.25L8.76 0.5L8.45 1.75L8.53 2.76ZM13.58 0.65L14.24 0.2L14.99 0.5L15.33 1.65L16.65 0.8L17.96 1.3L19.49 1.9L20.13 2.76L20.78 3.01L20.88 4.01L21.6 4.91L22.11 5.26L20.51 5.01L20.09 4.26L19.23 3.91L18.77 4.56L17.9 4.56L17.04 4.06L16.6 4.21L16.5 2.6L15.32 2.2L14.45 2.05L14.02 1.4L14.54 1.15L13.58 0.65ZM10.25 5.16L11 4.51L11.88 4.21L10.91 4.91L10.25 5.16ZM6.99 4.21L8.3 4.16L9.83 4.11L8.3 4.41L6.99 4.51L6.99 4.21ZM12.05 -0.75L12.49 -0.5L12.27 0L12.58 0.4L12.05 0.25L12.05 -0.75ZM12.22 1.6L13.49 1.7L13.35 1.9L12.35 1.8L12.22 1.6ZM21.14 2.76L22.1 2.5L22.77 2.1L22.54 2.76L21.43 3.11L21.14 2.76ZM24.48 3.41L25.35 3.76L26.2 4.26L26.83 5.01L25.75 4.76L24.48 3.41ZM-8.82 -4.01L-8.73 -4.91L-8.17 -4.26L-7.96 -3.61L-8.31 -3.06L-8.75 -3.01L-8.82 -4.01ZM5.79 11.02L6.09 10.92L7.18 10.32L8.61 9.92L9.28 9.27L9.65 8.52L10.22 8.12L10.85 7.26L11.69 6.91L12.28 7.51L12.8 7.46L13.13 6.51L13.49 6.11L14.19 6.06L15.11 6.01L15.89 6.01L15.65 6.66L15.41 7.41L16.25 8.02L16.99 8.72L17.64 8.72L18.01 7.51L18.1 6.26L18.53 5.36L18.9 7.01L19.66 7.51L19.88 8.77L19.97 9.52L21 10.17L21.68 11.27L22.57 12.77L22.64 14.33L22.22 15.53L21.89 16.28L21.01 17.43L20.43 18.78L19.36 19.03L18.78 19.58L18.25 19.13L17.09 19.23L16.51 19.03L16.21 18.28L15.87 17.83L15.81 17.28L15.75 16.43L15.55 17.03L15.36 16.93L14.88 17.48L14.57 17.28L14.16 16.43L13.02 15.78L11.27 16.18L9.99 16.53L9.04 16.98L7.44 17.53L6.55 17.18L6.23 16.78L6.57 15.78L6.29 14.53L5.7 13.13L5.77 12.02L5.79 11.02ZM17.95 20.38L19.41 20.48L19.24 21.12L18.76 21.66L18.22 21.76L18.03 21.17L17.95 20.38ZM30.11 17.23L30.65 18.03L31.04 18.53L32.05 18.88L31.19 19.73L30.77 20.43L30.11 20.82L30.16 19.93L29.92 19.63L30.55 18.53L30.11 17.23ZM29.29 20.28L29.69 20.87L29.2 21.52L28.75 21.91L28.05 22.26L27.58 22.95L26.83 23.29L25.96 23L27.06 22.01L28.29 21.27L29.29 20.28ZM75.12 -10.97L76.6 -11.62L78.54 -10.87L80.01 -10.12L78.51 -9.92L77.23 -10.92L76.1 -11.12L75.12 -10.97ZM-79.32 -10.97L-77.46 -11.62L-75.96 -10.87L-74.93 -10.12L-76.53 -9.92L-77.23 -10.92L-78.25 -11.12L-79.32 -10.97ZM-75.26 -9.27L-74.41 -9.97L-73.21 -9.92L-72.62 -9.32L-73.85 -9.02L-75.26 -9.27ZM-61.55 -23.78L-58.44 -25.72L-58.4 -24.71L-59 -23.73L-59.69 -23.29L-60.28 -23.78L-61.55 -23.78ZM49.8 -25.33L52.51 -24.17L51.53 -24.41L49.8 -25.33ZM-14.83 -34.68L-13.43 -35.41L-11.95 -36.4L-9.02 -36.8L-11.51 -36.1L-13.03 -35.29L-13.58 -34.36L-14.83 -34.68ZM-24.85 -37.4L-22.88 -37.95L-21.14 -38.04L-19.88 -37.95L-22.51 -37.21L-23.93 -36.66L-24.85 -37.4ZM-1.38 -37.58L0 -38.25L1.38 -37.58L0 -37.21L-1.38 -37.58ZM10.77 -35.7L12.3 -36.29L14.46 -36.1L12.64 -35.49L10.77 -35.7ZM25.03 -34.68L25.75 -34.56L25.07 -34.44L25.03 -34.68ZM-35.71 -19.03L-34.38 -19.13L-34.82 -18.38L-35.78 -18.83L-35.71 -19.03ZM-36.88 -20.53L-36.24 -20.53L-36.69 -19.53L-37.17 -19.53L-36.88 -20.53ZM-36.33 -21.47L-35.99 -21.52L-36.26 -20.77L-36.54 -20.87L-36.33 -21.47ZM-31.54 -17.78L-30.43 -17.63L-31.2 -17.53L-31.54 -17.78ZM-27.97 -17.53L-26.99 -17.83L-27.73 -17.33L-27.97 -17.53ZM44.76 -10.12L45.24 -9.77L44.94 -9.47L44.76 -10.12ZM-50.91 26.87L-50.09 26.96L-50.22 27.25L-50.91 26.87ZM-11.87 24.46L-11.28 24.56L-11.62 24.85L-11.87 24.46ZM-60.76 25.57L-59.52 25.57L-59.29 26.01L-60.32 25.91L-60.76 25.57ZM45.69 -37.58L48.29 -37.4L47.01 -38.1L44.81 -38.34L44.04 -38.1L45.69 -37.58ZM47.87 -35.49L48.88 -35.62L50.2 -34.89L49.75 -34.68L48.5 -35.09L47.87 -35.49ZM49.2 -35.7L50.83 -35.62L51.27 -34.89L50.18 -35.09L49.2 -35.7ZM46.49 -36.47L46.99 -36.66L48.39 -36.1L47.36 -36.1L46.49 -36.47ZM40.04 -36.84L41.8 -36.66L41.68 -36.4L40.19 -36.58L40.04 -36.84ZM51.16 -33.86L51.78 -33.99L52.38 -33.43L51.57 -33.56L51.16 -33.86ZM-72.17 -9.22L-71.48 -9.22L-71.57 -9.02L-72.21 -9.02L-72.17 -9.22ZM-76.96 -9.22L-76.12 -9.12L-76.38 -8.92L-76.87 -9.07L-76.96 -9.22ZM22.51 37.21L25.21 37.32L28.14 37.21L31.71 36.66L35.41 36.1L38.62 35.9L42.15 35.49L44.56 35.9L48.49 35.29L51.65 35.21L54.55 35.29L57.54 34.48L62.21 33L64.94 31.93L67.62 31.25L68.64 31.25L65.16 32.79L61.58 34.48L58.43 36.1L58.63 36.84L59.1 37.21L61.92 37.21L63.84 37.03L66.82 36.47L72.25 35.49L77.75 34.48L81.9 34.08L85.05 34.08L88.2 34.08L91.87 33.86L96.12 33.43L101 32.79L103.68 33L104.54 33.86L106.12 33.86L110.77 32.79L114.66 32.57L118.58 32.36L121.61 32.44L124.08 32.7L128.47 32.36L130.75 32.66L131.36 33.43L131.46 34.28L132.88 34.68L124.93 36.47L121.43 37.03L123.83 37.21M123.83 37.21L126.03 37.32L129.46 37.21L135.48 36.66L141.64 36.1L145.57 35.9L150.53 35.49L151.51 35.9L157.58 35.29L161.04 35.21L163.64 35.29L169.5 34.48L178.84 33L184.82 31.93L189.35 31.25L190.36 31.25L182.45 32.79L173.54 34.48L164.66 36.1L161.58 36.84L160.42 37.21L163.23 37.21L165.97 37.03L171.42 36.47L180.63 35.49L189.71 34.48L195.29 34.08L198.44 34.08L201.59 34.08L205.91 33.86L211.46 33.43L218.28 32.79L220.32 33L218.58 33.86L220.17 33.86L228.06 32.79L232.59 32.57L237.17 32.36L239.94 32.44L241.62 32.7L247.05 32.36L248.43 32.66L246.7 33.43L244.14 34.28L244.12 34.68L229.52 36.47L223.56 37.03L225.15 37.21M-78.8 37.21L-75.62 37.32L-73.17 37.21L-72.07 36.66L-70.82 36.1L-68.33 35.9L-66.23 35.49L-62.39 35.9L-60.61 35.29L-57.73 35.21L-54.55 35.29L-54.43 34.48L-54.43 33L-54.95 31.93L-54.1 31.25L-53.08 31.25L-52.13 32.79L-50.38 34.48L-47.8 36.1L-44.33 36.84L-42.22 37.21L-39.4 37.21L-38.3 37.03L-37.77 36.47L-36.13 35.49L-34.21 34.48L-31.5 34.08L-28.35 34.08L-25.2 34.08L-22.18 33.86L-19.22 33.43L-16.29 32.79L-12.96 33L-9.5 33.86L-7.92 33.86L-6.52 32.79L-3.28 32.57L0 32.36L3.29 32.44L6.53 32.7L9.88 32.36L13.08 32.66L16.02 33.43L18.78 34.28L21.63 34.68L20.34 36.47L19.29 37.03L22.51 37.21M-28.89 -20.62L-28.29 -21.76L-27 -23.24L-25.96 -23L-26.47 -22.65L-26.2 -22.26L-24.91 -22.6L-24.05 -23.48L-23.54 -23.48L-24.2 -23L-24.23 -22.26L-23.41 -20.87L-24.92 -20.48L-25.97 -21.02L-26.77 -21.02L-28.49 -20.62L-28.89 -20.62ZM-20.88 -22.26L-20.7 -23.24L-19.83 -23.29L-18.23 -23.48L-18.44 -22.6L-19.3 -22.26L-18.88 -20.92L-18.48 -20.53L-18.84 -18.78L-19.88 -18.43L-20.83 -18.83L-20.38 -20.13L-20.97 -21.02L-20.88 -22.26ZM42.96 -11.12L43.2 -10.97L43.7 -10.82L43.94 -10.67L44.25 -10.57M35.12 -27.06L34.12 -26.53L32.82 -26.2L31.5 -25.86L30.04 -25.77L29.25 -25.86L27.64 -26.1L26.95 -26.39M18.02 -21.81L18.68 -22.41L19.35 -22.9L19.99 -23.44L20.59 -24.07L20.99 -24.71L21.36 -25.33M-70.8 -9.17L-70.1 -8.42L-70 -7.51L-70 -6.61L-70.4 -6.01" fill="none" stroke="#000" stroke-width="0.75" stroke-linejoin="round"/>
<path id="boxes" d="M26.63 -24.95L53.26 -24.95M53.26 -24.95L58.91 -15.03M58.91 -15.03L29.46 -15.03M29.46 -15.03L26.63 -24.95M-64.67 -24.95L-39.37 -24.95M-42.08 -15.03L-71.54 -15.03M-71.54 -15.03L-64.67 -24.95M37.89 14.93L71.57 14.93M71.57 14.93L63.94 25.67M63.94 25.67L33.85 25.67M33.85 25.67L37.89 14.93M-65.26 14.93L-35.37 14.93M-35.37 14.93L-31.59 25.67M-31.59 25.67L-58.3 25.67M-58.3 25.67L-65.26 14.93M-29.47 14.93L0 14.93M0 14.93L0 25.67M0 25.67L-26.33 25.67M-26.33 25.67L-29.47 14.93" fill="none" stroke="#f00" stroke-width="1.4"/>
<path id="hl" d="M-154.4 -45L-244.4 45M-151.08 -45L-241.08 45M-147.76 -45L-237.76 45M-144.43 -45L-234.43 45M-141.11 -45L-231.11 45M-137.79 -45L-227.79 45M-134.46 -45L-224.46 45M-131.14 -45L-221.14 45M-127.82 -45L-217.82 45M-124.49 -45L-214.49 45M-121.17 -45L-211.17 45M-117.85 -45L-207.85 45M-114.52 -45L-204.52 45M-111.2 -45L-201.2 45M-107.88 -45L-197.88 45M-104.55 -45L-194.55 45M-101.23 -45L-191.23 45M-97.91 -45L-187.91 45M-94.58 -45L-184.58 45M-91.26 -45L-181.26 45M-87.94 -45L-177.94 45M-84.61 -45L-174.61 45M-81.29 -45L-171.29 45M-77.97 -45L-167.97 45M-74.64 -45L-164.64 45M-71.32 -45L-161.32 45M-68 -45L-158 45M-64.67 -45L-154.67 45M-61.35 -45L-151.35 45M-58.03 -45L-148.03 45M-54.7 -45L-144.7 45M-51.38 -45L-141.38 45M-48.06 -45L-138.06 45M-44.73 -45L-134.73 45M-41.41 -45L-131.41 45M-38.09 -45L-128.09 45M-34.76 -45L-124.76 45M-31.44 -45L-121.44 45M-28.11 -45L-118.11 45M-24.79 -45L-114.79 45M-21.47 -45L-111.47 45M-18.14 -45L-108.14 45M-14.82 -45L-104.82 45M-11.5 -45L-101.5 45M-8.17 -45L-98.17 45M-4.85 -45L-94.85 45M-1.53 -45L-91.53 45M1.8 -45L-88.2 45M5.12 -45L-84.88 45M8.44 -45L-81.56 45M11.77 -45L-78.23 45M15.09 -45L-74.91 45M18.41 -45L-71.59 45M21.74 -45L-68.26 45M25.06 -45L-64.94 45M28.38 -45L-61.62 45M31.71 -45L-58.29 45M35.03 -45L-54.97 45M38.35 -45L-51.65 45M41.68 -45L-48.32 45M45 -45L-45 45M48.32 -45L-41.68 45M51.65 -45L-38.35 45M54.97 -45L-35.03 45M58.29 -45L-31.71 45M61.62 -45L-28.38 45M64.94 -45L-25.06 45M68.26 -45L-21.74 45M71.59 -45L-18.41 45M74.91 -45L-15.09 45M78.23 -45L-11.77 45M81.56 -45L-8.44 45M84.88 -45L-5.12 45M88.2 -45L-1.8 45M91.53 -45L1.53 45M94.85 -45L4.85 45M98.17 -45L8.17 45M101.5 -45L11.5 45M104.82 -45L14.82 45M108.14 -45L18.14 45M111.47 -45L21.47 45M114.79 -45L24.79 45M118.11 -45L28.11 45M121.44 -45L31.44 45M124.76 -45L34.76 45M128.09 -45L38.09 45M131.41 -45L41.41 45M134.73 -45L44.73 45M138.06 -45L48.06 45M141.38 -45L51.38 45M144.7 -45L54.7 45M148.03 -45L58.03 45M151.35 -45L61.35 45M154.67 -45L64.67 45M158 -45L68 45M161.32 -45L71.32 45M164.64 -45L74.64 45M167.97 -45L77.97 45M171.29 -45L81.29 45M174.61 -45L84.61 45M177.94 -45L87.94 45M181.26 -45L91.26 45M184.58 -45L94.58 45M187.91 -45L97.91 45M191.23 -45L101.23 45M194.55 -45L104.55 45M197.88 -45L107.88 45M201.2 -45L111.2 45M204.52 -45L114.52 45M207.85 -45L117.85 45M211.17 -45L121.17 45M214.49 -45L124.49 45M217.82 -45L127.82 45M221.14 -45L131.14 45M224.46 -45L134.46 45M227.79 -45L137.79 45M231.11 -45L141.11 45M234.43 -45L144.43 45M237.76 -45L147.76 45M241.08 -45L151.08 45" fill="none" stroke="#3a3a3a" stroke-width="0.36"/>
</defs>
<rect width="500" height="293" fill="#fff"/>

<text x="250" y="11.5" class="t0">MCB (2065-2084) minus Reference (2019-2039)</text>
<text x="84.15" y="24.9" class="th">CESM2</text>
<text x="84.15" y="39.2" class="ts">DJF</text>
<text x="84.15" y="49.1" class="ts">-0.023 (-0.027, -0.020) mm/day</text>
<text x="84.15" y="150.6" class="ts">JJA</text>
<text x="84.15" y="160.4" class="ts">-0.016 (-0.018, -0.014) mm/day</text>
<text x="250.3" y="24.9" class="th">E3SMv2</text>
<text x="250.3" y="39.2" class="ts">DJF</text>
<text x="250.3" y="49.1" class="ts">-0.033 (-0.036, -0.030) mm/day</text>
<text x="250.3" y="150.6" class="ts">JJA</text>
<text x="250.3" y="160.4" class="ts">-0.003 (-0.007, 0.000) mm/day</text>
<text x="415.75" y="24.9" class="th">UKESM1</text>
<text x="415.75" y="39.2" class="ts">DJF</text>
<text x="415.75" y="49.1" class="ts">-0.055 (-0.061, -0.049) mm/day</text>
<text x="415.75" y="150.6" class="ts">JJA</text>
<text x="415.75" y="160.4" class="ts">-0.047 (-0.052, -0.042) mm/day</text>
<g transform="translate(84.15 94.1)">
<g clip-path="url(#clip)">
<rect x="-85" y="-45" width="170" height="90" fill="#e9f3f1"/>
<use href="#land" fill="#f2f3eb"/>
<g filter="url(#bl)"><ellipse cx="4.8" cy="-30.6" rx="11.0" ry="5.5" fill="#f5f1e3"/><ellipse cx="40.8" cy="-32.1" rx="9.0" ry="3.0" fill="#f5f2e8"/><ellipse cx="-24.2" cy="-16.1" rx="9.0" ry="5.0" fill="#f5f2e8"/><ellipse cx="-53.2" cy="-36.1" rx="13.0" ry="3.0" fill="#f6ebcf"/><ellipse cx="-44.2" cy="8.9" rx="11.0" ry="5.0" fill="#f6ebcf"/><ellipse cx="67.8" cy="10.9" rx="10.0" ry="4.5" fill="#f6ebcf"/><ellipse cx="-59.2" cy="-10.1" rx="9.0" ry="3.5" fill="#f6ebcf"/><ellipse cx="10.8" cy="-24.1" rx="12.0" ry="6.0" fill="#f5f2e8"/><ellipse cx="-47.2" cy="-30.6" rx="8.0" ry="3.2" fill="#f0deb0"/><ellipse cx="-48.2" cy="-30.8" rx="5.0" ry="2.2" fill="#e5cc8f"/><ellipse cx="-48.7" cy="-30.8" rx="2.5" ry="1.3" fill="#d7b169"/><ellipse cx="-54.2" cy="-21.9" rx="5.5" ry="2.2" fill="#d2ede9"/><ellipse cx="-63.2" cy="6.9" rx="3.5" ry="4.0" fill="#b6e3dd"/><ellipse cx="-15.2" cy="-0.6" rx="8.0" ry="2.2" fill="#d2ede9"/><ellipse cx="-14.2" cy="-0.3" rx="4.5" ry="1.4" fill="#b6e3dd"/><ellipse cx="5.8" cy="0.9" rx="12.0" ry="2.0" fill="#d2ede9"/><ellipse cx="15.8" cy="1.9" rx="6.0" ry="1.5" fill="#b6e3dd"/><ellipse cx="46.8" cy="-4.9" rx="31.0" ry="1.8" fill="#f0deb0"/><ellipse cx="39.8" cy="-4.9" rx="15.0" ry="1.1" fill="#e5cc8f"/><ellipse cx="37.8" cy="-4.9" rx="8.0" ry="0.7" fill="#d7b169"/><ellipse cx="45.8" cy="0.9" rx="32.0" ry="2.6" fill="#d2ede9"/><ellipse cx="32.8" cy="1.2" rx="10.0" ry="1.6" fill="#92d4ca"/><ellipse cx="70.8" cy="1.4" rx="7.0" ry="0.9" fill="#b6e3dd"/><ellipse cx="19.8" cy="0.9" rx="6.0" ry="1.5" fill="#b6e3dd"/><ellipse cx="70.8" cy="-12.1" rx="8.0" ry="5.0" fill="#d2ede9"/></g>
<mask id="mp00" maskUnits="userSpaceOnUse" x="-90" y="-50" width="180" height="100"><rect x="-90" y="-50" width="180" height="100" fill="#fff"/><ellipse cx="4.8" cy="-31.1" rx="10.0" ry="5.0" fill="#000"/><ellipse cx="67.8" cy="10.9" rx="9.0" ry="4.0" fill="#000"/><ellipse cx="-48.2" cy="-31.1" rx="7.0" ry="3.2" fill="#000"/><ellipse cx="-54.2" cy="-21.9" rx="5.0" ry="2.0" fill="#000"/><ellipse cx="-53.2" cy="-36.6" rx="12.0" ry="2.8" fill="#000"/><ellipse cx="-47.2" cy="8.4" rx="11.0" ry="4.8" fill="#000"/><ellipse cx="-72.2" cy="0.4" rx="5.0" ry="3.0" fill="#000"/></mask>
<use href="#hl" mask="url(#mp00)"/>
<use href="#coast"/>
<use href="#caa"/>
<use href="#boxes"/>
</g>
<use href="#bnd" fill="none" stroke="#222" stroke-width="0.8"/>
</g>
<g transform="translate(250.3 94.1)">
<g clip-path="url(#clip)">
<rect x="-85" y="-45" width="170" height="90" fill="#e9f3f1"/>
<use href="#land" fill="#f2f3eb"/>
<g filter="url(#bl)"><ellipse cx="-50.3" cy="-36.1" rx="15.0" ry="4.0" fill="#f5f2e8"/><ellipse cx="49.7" cy="-20.1" rx="8.0" ry="4.0" fill="#f6ebcf"/><ellipse cx="50.7" cy="-21.1" rx="4.0" ry="2.5" fill="#f0deb0"/><ellipse cx="-57.3" cy="6.9" rx="17.0" ry="6.0" fill="#f5f2e8"/><ellipse cx="-68.3" cy="9.9" rx="5.0" ry="3.0" fill="#f6ebcf"/><ellipse cx="13.7" cy="9.9" rx="9.0" ry="6.0" fill="#f6ebcf"/><ellipse cx="11.7" cy="8.9" rx="6.0" ry="3.5" fill="#f0deb0"/><ellipse cx="-52.3" cy="-21.6" rx="8.0" ry="2.6" fill="#b6e3dd"/><ellipse cx="-28.3" cy="-2.1" rx="36.0" ry="4.5" fill="#d2ede9"/><ellipse cx="-47.3" cy="-3.1" rx="9.0" ry="2.2" fill="#b6e3dd"/><ellipse cx="-34.3" cy="-0.8" rx="8.0" ry="2.8" fill="#92d4ca"/><ellipse cx="-24.3" cy="1.2" rx="7.0" ry="2.6" fill="#92d4ca"/><ellipse cx="-31.3" cy="-0.1" rx="4.0" ry="1.5" fill="#6dbfb4"/><ellipse cx="-21.3" cy="1.9" rx="3.0" ry="1.2" fill="#6dbfb4"/><ellipse cx="-0.3" cy="-11.6" rx="12.0" ry="3.0" fill="#d2ede9"/><ellipse cx="6.7" cy="-10.1" rx="6.0" ry="2.0" fill="#b6e3dd"/><ellipse cx="-2.3" cy="-0.6" rx="6.0" ry="2.0" fill="#b6e3dd"/><ellipse cx="-9.3" cy="3.4" rx="14.0" ry="3.5" fill="#f0deb0"/><ellipse cx="-12.3" cy="3.7" rx="8.0" ry="2.2" fill="#e5cc8f"/><ellipse cx="-14.3" cy="3.7" rx="4.0" ry="1.3" fill="#d7b169"/><ellipse cx="4.7" cy="-4.1" rx="5.0" ry="4.0" fill="#e5cc8f"/><ellipse cx="10.7" cy="-4.6" rx="5.5" ry="5.0" fill="#e5cc8f"/><ellipse cx="10.7" cy="-4.6" rx="3.8" ry="3.5" fill="#d7b169"/><ellipse cx="10.2" cy="-4.6" rx="2.6" ry="2.4" fill="#c79040"/><ellipse cx="9.7" cy="-5.1" rx="1.5" ry="1.5" fill="#975b12"/><ellipse cx="39.7" cy="1.4" rx="18.0" ry="3.0" fill="#b6e3dd"/><ellipse cx="26.7" cy="-0.9" rx="6.0" ry="2.4" fill="#6dbfb4"/><ellipse cx="25.7" cy="-1.1" rx="3.0" ry="1.3" fill="#278a82"/><ellipse cx="49.7" cy="-5.1" rx="14.0" ry="3.0" fill="#f5f2e8"/><ellipse cx="67.7" cy="20.9" rx="8.0" ry="8.0" fill="#f5f2e8"/></g>
<mask id="mp01" maskUnits="userSpaceOnUse" x="-90" y="-50" width="180" height="100"><rect x="-90" y="-50" width="180" height="100" fill="#fff"/><ellipse cx="10.2" cy="-4.6" rx="5.0" ry="4.0" fill="#000"/><ellipse cx="26.7" cy="-0.9" rx="6.0" ry="2.2" fill="#000"/><ellipse cx="-31.3" cy="-0.1" rx="14.0" ry="3.5" fill="#000"/><ellipse cx="-10.3" cy="3.7" rx="13.0" ry="3.5" fill="#000"/></mask>
<use href="#hl" mask="url(#mp01)"/>
<use href="#coast"/>
<use href="#caa"/>
<use href="#boxes"/>
</g>
<use href="#bnd" fill="none" stroke="#222" stroke-width="0.8"/>
</g>
<g transform="translate(415.75 94.1)">
<g clip-path="url(#clip)">
<rect x="-85" y="-45" width="170" height="90" fill="#e9f3f1"/>
<use href="#land" fill="#f2f3eb"/>
<g filter="url(#bl)"><ellipse cx="-53.8" cy="5.9" rx="18.0" ry="4.0" fill="#f6ebcf"/><ellipse cx="-53.8" cy="5.9" rx="8.0" ry="2.0" fill="#f0deb0"/><ellipse cx="-65.8" cy="-7.1" rx="5.0" ry="4.0" fill="#f5f2e8"/><ellipse cx="-12.8" cy="7.9" rx="9.0" ry="3.0" fill="#f0deb0"/><ellipse cx="-11.8" cy="7.9" rx="4.0" ry="1.5" fill="#e5cc8f"/><ellipse cx="0.2" cy="16.9" rx="16.0" ry="5.0" fill="#f5f2e8"/><ellipse cx="14.2" cy="0.9" rx="40.0" ry="5.5" fill="#d2ede9"/><ellipse cx="-17.8" cy="1.4" rx="8.0" ry="2.5" fill="#b6e3dd"/><ellipse cx="9.2" cy="2.9" rx="8.0" ry="2.0" fill="#b6e3dd"/><ellipse cx="40.2" cy="2.9" rx="22.0" ry="6.0" fill="#d2ede9"/><ellipse cx="28.2" cy="-1.6" rx="6.0" ry="2.0" fill="#b6e3dd"/><ellipse cx="34.2" cy="0.9" rx="6.0" ry="2.2" fill="#92d4ca"/><ellipse cx="40.2" cy="2.9" rx="5.0" ry="2.0" fill="#b6e3dd"/><ellipse cx="47.2" cy="5.4" rx="6.0" ry="2.0" fill="#92d4ca"/><ellipse cx="53.2" cy="6.9" rx="4.0" ry="1.5" fill="#92d4ca"/><ellipse cx="34.2" cy="0.9" rx="3.0" ry="1.2" fill="#6dbfb4"/><ellipse cx="-65.8" cy="15.9" rx="3.0" ry="3.0" fill="#b6e3dd"/><ellipse cx="60.2" cy="19.9" rx="13.0" ry="10.0" fill="#d2ede9"/><ellipse cx="39.2" cy="-24.1" rx="14.0" ry="2.5" fill="#f5f2e8"/><ellipse cx="42.2" cy="-15.1" rx="14.0" ry="1.5" fill="#f6ebcf"/><ellipse cx="18.2" cy="-8.1" rx="8.0" ry="2.5" fill="#f6ebcf"/><ellipse cx="69.2" cy="-2.1" rx="12.0" ry="2.5" fill="#f6ebcf"/><ellipse cx="21.2" cy="15.9" rx="10.0" ry="8.0" fill="#f5f2e8"/><ellipse cx="-43.8" cy="-22.1" rx="7.0" ry="3.0" fill="#d2ede9"/></g>
<mask id="mp02" maskUnits="userSpaceOnUse" x="-90" y="-50" width="180" height="100"><rect x="-90" y="-50" width="180" height="100" fill="#fff"/><ellipse cx="32.2" cy="0.9" rx="4.0" ry="1.5" fill="#000"/></mask>
<use href="#hl" mask="url(#mp02)"/>
<use href="#coast"/>
<use href="#caa"/>
<use href="#boxes"/>
</g>
<use href="#bnd" fill="none" stroke="#222" stroke-width="0.8"/>
</g>
<g transform="translate(84.15 205.95) scale(1 1.0074)">
<g clip-path="url(#clip)">
<rect x="-85" y="-45" width="170" height="90" fill="#e9f3f1"/>
<use href="#land" fill="#f2f3eb"/>
<g filter="url(#bl)"><ellipse cx="-56.2" cy="-16.9" rx="20.0" ry="7.0" fill="#f5f3ea"/><ellipse cx="-48.2" cy="6.1" rx="11.0" ry="7.0" fill="#f5f3ea"/><ellipse cx="35.8" cy="-19.9" rx="14.0" ry="4.0" fill="#f5f2e8"/><ellipse cx="-56.2" cy="-5.6" rx="22.0" ry="1.2" fill="#f6ebcf"/><ellipse cx="-34.2" cy="-0.4" rx="36.0" ry="1.8" fill="#f0deb0"/><ellipse cx="-48.2" cy="-0.9" rx="10.0" ry="1.3" fill="#e5cc8f"/><ellipse cx="-14.2" cy="-0.4" rx="8.0" ry="1.2" fill="#e5cc8f"/><ellipse cx="3.8" cy="-0.4" rx="4.0" ry="1.4" fill="#d7b169"/><ellipse cx="-73.2" cy="-1.4" rx="4.5" ry="3.8" fill="#b6e3dd"/><ellipse cx="-73.2" cy="-1.4" rx="2.2" ry="2.0" fill="#92d4ca"/><ellipse cx="3.8" cy="-11.4" rx="13.0" ry="6.0" fill="#d2ede9"/><ellipse cx="-2.2" cy="-12.9" rx="4.0" ry="3.0" fill="#92d4ca"/><ellipse cx="8.8" cy="-8.9" rx="5.0" ry="2.5" fill="#92d4ca"/><ellipse cx="1.8" cy="-10.9" rx="2.2" ry="1.6" fill="#6dbfb4"/><ellipse cx="14.8" cy="-6.9" rx="4.0" ry="2.0" fill="#b6e3dd"/><ellipse cx="21.8" cy="-18.4" rx="6.0" ry="2.5" fill="#d2ede9"/><ellipse cx="45.8" cy="-3.3" rx="32.0" ry="1.8" fill="#b6e3dd"/><ellipse cx="67.8" cy="-3.1" rx="11.0" ry="1.2" fill="#92d4ca"/><ellipse cx="47.8" cy="-7.4" rx="6.0" ry="1.6" fill="#f0deb0"/><ellipse cx="68.8" cy="-6.1" rx="7.0" ry="1.6" fill="#f0deb0"/></g>
<mask id="mp10" maskUnits="userSpaceOnUse" x="-90" y="-50" width="180" height="100"><rect x="-90" y="-50" width="180" height="100" fill="#fff"/><ellipse cx="1.8" cy="-10.9" rx="5.0" ry="3.0" fill="#000"/><ellipse cx="63.8" cy="-3.3" rx="15.0" ry="1.5" fill="#000"/><ellipse cx="-54.2" cy="-20.9" rx="16.0" ry="6.3" fill="#000"/><ellipse cx="-48.2" cy="6.6" rx="11.5" ry="7.5" fill="#000"/><ellipse cx="-69.2" cy="-8.9" rx="9.0" ry="3.5" fill="#000"/><ellipse cx="-75.2" cy="-1.4" rx="5.0" ry="4.5" fill="#000"/></mask>
<use href="#hl" mask="url(#mp10)"/>
<use href="#coast"/>
<use href="#caa"/>
<use href="#boxes"/>
</g>
<use href="#bnd" fill="none" stroke="#222" stroke-width="0.8"/>
</g>
<g transform="translate(250.3 205.95) scale(1 1.0074)">
<g clip-path="url(#clip)">
<rect x="-85" y="-45" width="170" height="90" fill="#e9f3f1"/>
<use href="#land" fill="#f2f3eb"/>
<g filter="url(#bl)"><ellipse cx="-52.3" cy="7.1" rx="20.0" ry="6.0" fill="#f5f2e8"/><ellipse cx="49.7" cy="-19.9" rx="12.0" ry="4.0" fill="#f5f2e8"/><ellipse cx="-58.3" cy="-7.4" rx="17.0" ry="2.0" fill="#d2ede9"/><ellipse cx="-57.3" cy="-4.8" rx="16.0" ry="2.4" fill="#92d4ca"/><ellipse cx="-55.3" cy="-5.1" rx="10.0" ry="1.7" fill="#47a49b"/><ellipse cx="-54.3" cy="-5.1" rx="6.0" ry="1.1" fill="#278a82"/><ellipse cx="-51.3" cy="-0.6" rx="14.0" ry="2.2" fill="#f0deb0"/><ellipse cx="-48.3" cy="-0.6" rx="9.0" ry="1.6" fill="#d7b169"/><ellipse cx="-47.3" cy="-0.6" rx="5.0" ry="1.1" fill="#c79040"/><ellipse cx="-7.3" cy="0.6" rx="11.0" ry="2.5" fill="#f0deb0"/><ellipse cx="-7.3" cy="0.6" rx="6.0" ry="1.5" fill="#e5cc8f"/><ellipse cx="-0.3" cy="-9.9" rx="14.0" ry="5.0" fill="#d2ede9"/><ellipse cx="-3.3" cy="-8.9" rx="6.0" ry="2.5" fill="#92d4ca"/><ellipse cx="5.7" cy="-12.9" rx="4.0" ry="2.0" fill="#92d4ca"/><ellipse cx="27.7" cy="-5.9" rx="16.0" ry="5.0" fill="#d2ede9"/><ellipse cx="21.7" cy="-7.9" rx="5.0" ry="2.0" fill="#b6e3dd"/><ellipse cx="35.7" cy="3.1" rx="13.0" ry="3.5" fill="#d2ede9"/><ellipse cx="35.7" cy="4.1" rx="6.0" ry="2.0" fill="#92d4ca"/><ellipse cx="35.7" cy="4.1" rx="3.0" ry="1.2" fill="#47a49b"/><ellipse cx="59.7" cy="-5.9" rx="9.0" ry="3.0" fill="#f6ebcf"/><ellipse cx="65.7" cy="-3.9" rx="5.0" ry="1.5" fill="#f0deb0"/><ellipse cx="73.7" cy="-3.4" rx="8.0" ry="2.0" fill="#d2ede9"/><ellipse cx="-16.3" cy="24.6" rx="4.0" ry="2.0" fill="#f0deb0"/></g>
<mask id="mp11" maskUnits="userSpaceOnUse" x="-90" y="-50" width="180" height="100"><rect x="-90" y="-50" width="180" height="100" fill="#fff"/><ellipse cx="-55.3" cy="-4.9" rx="12.0" ry="2.0" fill="#000"/><ellipse cx="-48.3" cy="-0.6" rx="9.0" ry="1.5" fill="#000"/><ellipse cx="35.7" cy="4.1" rx="5.0" ry="2.0" fill="#000"/><ellipse cx="-3.3" cy="-8.9" rx="5.0" ry="2.0" fill="#000"/></mask>
<use href="#hl" mask="url(#mp11)"/>
<use href="#coast"/>
<use href="#caa"/>
<use href="#boxes"/>
</g>
<use href="#bnd" fill="none" stroke="#222" stroke-width="0.8"/>
</g>
<g transform="translate(415.75 205.95) scale(1 1.0074)">
<g clip-path="url(#clip)">
<rect x="-85" y="-45" width="170" height="90" fill="#e9f3f1"/>
<use href="#land" fill="#f2f3eb"/>
<g filter="url(#bl)"><ellipse cx="-58.8" cy="7.1" rx="17.0" ry="6.0" fill="#f5f2e8"/><ellipse cx="40.2" cy="-20.9" rx="13.0" ry="4.0" fill="#f5f2e8"/><ellipse cx="-63.8" cy="-8.4" rx="14.0" ry="1.6" fill="#f6ebcf"/><ellipse cx="-73.8" cy="-7.1" rx="4.5" ry="1.5" fill="#e5cc8f"/><ellipse cx="-45.8" cy="-5.4" rx="26.0" ry="2.2" fill="#d2ede9"/><ellipse cx="-35.8" cy="-6.4" rx="8.0" ry="1.6" fill="#b6e3dd"/><ellipse cx="-51.8" cy="-1.1" rx="12.0" ry="2.0" fill="#f0deb0"/><ellipse cx="-51.8" cy="-1.1" rx="7.0" ry="1.4" fill="#d7b169"/><ellipse cx="-53.8" cy="-1.1" rx="4.0" ry="1.0" fill="#c79040"/><ellipse cx="-7.8" cy="-7.9" rx="6.0" ry="3.5" fill="#b6e3dd"/><ellipse cx="-5.8" cy="-7.9" rx="3.0" ry="2.0" fill="#92d4ca"/><ellipse cx="4.2" cy="-4.9" rx="7.0" ry="3.0" fill="#d2ede9"/><ellipse cx="11.2" cy="-2.9" rx="3.0" ry="1.5" fill="#b6e3dd"/><ellipse cx="46.2" cy="-5.1" rx="30.0" ry="1.8" fill="#d2ede9"/><ellipse cx="67.2" cy="-4.1" rx="10.0" ry="1.2" fill="#92d4ca"/><ellipse cx="70.2" cy="-4.1" rx="5.0" ry="0.9" fill="#6dbfb4"/><ellipse cx="40.2" cy="-4.9" rx="12.0" ry="4.0" fill="#f5f2e8"/><ellipse cx="70.2" cy="-7.3" rx="8.0" ry="1.4" fill="#e5cc8f"/><ellipse cx="72.2" cy="-7.3" rx="4.0" ry="1.0" fill="#d7b169"/><ellipse cx="75.2" cy="9.1" rx="5.0" ry="5.5" fill="#f5f2e8"/></g>
<mask id="mp12" maskUnits="userSpaceOnUse" x="-90" y="-50" width="180" height="100"><rect x="-90" y="-50" width="180" height="100" fill="#fff"/><ellipse cx="-51.8" cy="-1.1" rx="9.0" ry="1.6" fill="#000"/><ellipse cx="68.2" cy="-5.4" rx="9.0" ry="2.2" fill="#000"/><ellipse cx="75.2" cy="9.1" rx="5.0" ry="5.5" fill="#000"/></mask>
<use href="#hl" mask="url(#mp12)"/>
<use href="#coast"/>
<use href="#caa"/>
<use href="#boxes"/>
</g>
<use href="#bnd" fill="none" stroke="#222" stroke-width="0.8"/>
</g>
<linearGradient id="cbg0" x1="0" x2="1" y1="0" y2="0"><stop offset="0" stop-color="#613806"/><stop offset="0.05" stop-color="#613806"/><stop offset="0.05" stop-color="#7e4909"/><stop offset="0.1" stop-color="#7e4909"/><stop offset="0.1" stop-color="#975b12"/><stop offset="0.15" stop-color="#975b12"/><stop offset="0.15" stop-color="#b17423"/><stop offset="0.2" stop-color="#b17423"/><stop offset="0.2" stop-color="#c79040"/><stop offset="0.25" stop-color="#c79040"/><stop offset="0.25" stop-color="#d7b169"/><stop offset="0.3" stop-color="#d7b169"/><stop offset="0.3" stop-color="#e5cc8f"/><stop offset="0.35" stop-color="#e5cc8f"/><stop offset="0.35" stop-color="#f0deb0"/><stop offset="0.4" stop-color="#f0deb0"/><stop offset="0.4" stop-color="#f6ebcf"/><stop offset="0.45" stop-color="#f6ebcf"/><stop offset="0.45" stop-color="#f5f2e8"/><stop offset="0.5" stop-color="#f5f2e8"/><stop offset="0.5" stop-color="#e9f2f1"/><stop offset="0.55" stop-color="#e9f2f1"/><stop offset="0.55" stop-color="#d2ede9"/><stop offset="0.6" stop-color="#d2ede9"/><stop offset="0.6" stop-color="#b6e3dd"/><stop offset="0.65" stop-color="#b6e3dd"/><stop offset="0.65" stop-color="#92d4ca"/><stop offset="0.7" stop-color="#92d4ca"/><stop offset="0.7" stop-color="#6dbfb4"/><stop offset="0.75" stop-color="#6dbfb4"/><stop offset="0.75" stop-color="#47a49b"/><stop offset="0.8" stop-color="#47a49b"/><stop offset="0.8" stop-color="#278a82"/><stop offset="0.85" stop-color="#278a82"/><stop offset="0.85" stop-color="#0e726a"/><stop offset="0.9" stop-color="#0e726a"/><stop offset="0.9" stop-color="#015b52"/><stop offset="0.95" stop-color="#015b52"/><stop offset="0.95" stop-color="#00463b"/><stop offset="1" stop-color="#00463b"/></linearGradient>
<path d="M15.95 250.6L5.45 256.75L15.95 262.9Z" fill="#543005"/>
<path d="M152.35 250.6L162.85 256.75L152.35 262.9Z" fill="#003c30"/>
<rect x="15.65" y="250.6" width="137" height="12.3" fill="url(#cbg0)"/>
<path d="M15.65 250.6L152.65 250.6L162.85 256.75L152.65 262.9L15.65 262.9L5.45 256.75Z" fill="none" stroke="#222" stroke-width="0.6"/>
<path d="M15.65 262.9v1.8M22.5 262.9v1.8M29.35 262.9v1.8M36.2 262.9v1.8M43.05 262.9v1.8M49.9 262.9v1.8M56.75 262.9v1.8M63.6 262.9v1.8M70.45 262.9v1.8M77.3 262.9v1.8M84.15 262.9v1.8M91 262.9v1.8M97.85 262.9v1.8M104.7 262.9v1.8M111.55 262.9v1.8M118.4 262.9v1.8M125.25 262.9v1.8M132.1 262.9v1.8M138.95 262.9v1.8M145.8 262.9v1.8M152.65 262.9v1.8M29.35 262.9v3.2M56.75 262.9v3.2M84.15 262.9v3.2M111.55 262.9v3.2M138.95 262.9v3.2" stroke="#222" stroke-width="0.6" fill="none"/>
<text x="29.35" y="274.9" class="tl">−2.4</text>
<text x="56.75" y="274.9" class="tl">−1.2</text>
<text x="84.15" y="274.9" class="tl">0</text>
<text x="111.55" y="274.9" class="tl">1.2</text>
<text x="138.95" y="274.9" class="tl">2.4</text>
<text x="84.15" y="285.6" class="tl">Precipitation (mm/day)</text>
<linearGradient id="cbg1" x1="0" x2="1" y1="0" y2="0"><stop offset="0" stop-color="#613806"/><stop offset="0.05" stop-color="#613806"/><stop offset="0.05" stop-color="#7e4909"/><stop offset="0.1" stop-color="#7e4909"/><stop offset="0.1" stop-color="#975b12"/><stop offset="0.15" stop-color="#975b12"/><stop offset="0.15" stop-color="#b17423"/><stop offset="0.2" stop-color="#b17423"/><stop offset="0.2" stop-color="#c79040"/><stop offset="0.25" stop-color="#c79040"/><stop offset="0.25" stop-color="#d7b169"/><stop offset="0.3" stop-color="#d7b169"/><stop offset="0.3" stop-color="#e5cc8f"/><stop offset="0.35" stop-color="#e5cc8f"/><stop offset="0.35" stop-color="#f0deb0"/><stop offset="0.4" stop-color="#f0deb0"/><stop offset="0.4" stop-color="#f6ebcf"/><stop offset="0.45" stop-color="#f6ebcf"/><stop offset="0.45" stop-color="#f5f2e8"/><stop offset="0.5" stop-color="#f5f2e8"/><stop offset="0.5" stop-color="#e9f2f1"/><stop offset="0.55" stop-color="#e9f2f1"/><stop offset="0.55" stop-color="#d2ede9"/><stop offset="0.6" stop-color="#d2ede9"/><stop offset="0.6" stop-color="#b6e3dd"/><stop offset="0.65" stop-color="#b6e3dd"/><stop offset="0.65" stop-color="#92d4ca"/><stop offset="0.7" stop-color="#92d4ca"/><stop offset="0.7" stop-color="#6dbfb4"/><stop offset="0.75" stop-color="#6dbfb4"/><stop offset="0.75" stop-color="#47a49b"/><stop offset="0.8" stop-color="#47a49b"/><stop offset="0.8" stop-color="#278a82"/><stop offset="0.85" stop-color="#278a82"/><stop offset="0.85" stop-color="#0e726a"/><stop offset="0.9" stop-color="#0e726a"/><stop offset="0.9" stop-color="#015b52"/><stop offset="0.95" stop-color="#015b52"/><stop offset="0.95" stop-color="#00463b"/><stop offset="1" stop-color="#00463b"/></linearGradient>
<path d="M182.1 250.6L171.6 256.75L182.1 262.9Z" fill="#543005"/>
<path d="M318.5 250.6L329 256.75L318.5 262.9Z" fill="#003c30"/>
<rect x="181.8" y="250.6" width="137" height="12.3" fill="url(#cbg1)"/>
<path d="M181.8 250.6L318.8 250.6L329 256.75L318.8 262.9L181.8 262.9L171.6 256.75Z" fill="none" stroke="#222" stroke-width="0.6"/>
<path d="M183.51 262.9v1.8M188.65 262.9v1.8M193.79 262.9v1.8M198.93 262.9v1.8M204.06 262.9v1.8M209.2 262.9v1.8M214.34 262.9v1.8M219.48 262.9v1.8M224.61 262.9v1.8M229.75 262.9v1.8M234.89 262.9v1.8M240.03 262.9v1.8M245.16 262.9v1.8M250.3 262.9v1.8M255.44 262.9v1.8M260.57 262.9v1.8M265.71 262.9v1.8M270.85 262.9v1.8M275.99 262.9v1.8M281.12 262.9v1.8M286.26 262.9v1.8M291.4 262.9v1.8M296.54 262.9v1.8M301.68 262.9v1.8M306.81 262.9v1.8M311.95 262.9v1.8M317.09 262.9v1.8M188.65 262.9v3.2M209.2 262.9v3.2M229.75 262.9v3.2M250.3 262.9v3.2M270.85 262.9v3.2M291.4 262.9v3.2M311.95 262.9v3.2" stroke="#222" stroke-width="0.6" fill="none"/>
<text x="188.65" y="274.9" class="tl">−2.7</text>
<text x="209.2" y="274.9" class="tl">−1.8</text>
<text x="229.75" y="274.9" class="tl">−0.9</text>
<text x="250.3" y="274.9" class="tl">0</text>
<text x="270.85" y="274.9" class="tl">0.9</text>
<text x="291.4" y="274.9" class="tl">1.8</text>
<text x="311.95" y="274.9" class="tl">2.7</text>
<text x="250.3" y="285.6" class="tl">Precipitation (mm/day)</text>
<linearGradient id="cbg2" x1="0" x2="1" y1="0" y2="0"><stop offset="0" stop-color="#613806"/><stop offset="0.05" stop-color="#613806"/><stop offset="0.05" stop-color="#7e4909"/><stop offset="0.1" stop-color="#7e4909"/><stop offset="0.1" stop-color="#975b12"/><stop offset="0.15" stop-color="#975b12"/><stop offset="0.15" stop-color="#b17423"/><stop offset="0.2" stop-color="#b17423"/><stop offset="0.2" stop-color="#c79040"/><stop offset="0.25" stop-color="#c79040"/><stop offset="0.25" stop-color="#d7b169"/><stop offset="0.3" stop-color="#d7b169"/><stop offset="0.3" stop-color="#e5cc8f"/><stop offset="0.35" stop-color="#e5cc8f"/><stop offset="0.35" stop-color="#f0deb0"/><stop offset="0.4" stop-color="#f0deb0"/><stop offset="0.4" stop-color="#f6ebcf"/><stop offset="0.45" stop-color="#f6ebcf"/><stop offset="0.45" stop-color="#f5f2e8"/><stop offset="0.5" stop-color="#f5f2e8"/><stop offset="0.5" stop-color="#e9f2f1"/><stop offset="0.55" stop-color="#e9f2f1"/><stop offset="0.55" stop-color="#d2ede9"/><stop offset="0.6" stop-color="#d2ede9"/><stop offset="0.6" stop-color="#b6e3dd"/><stop offset="0.65" stop-color="#b6e3dd"/><stop offset="0.65" stop-color="#92d4ca"/><stop offset="0.7" stop-color="#92d4ca"/><stop offset="0.7" stop-color="#6dbfb4"/><stop offset="0.75" stop-color="#6dbfb4"/><stop offset="0.75" stop-color="#47a49b"/><stop offset="0.8" stop-color="#47a49b"/><stop offset="0.8" stop-color="#278a82"/><stop offset="0.85" stop-color="#278a82"/><stop offset="0.85" stop-color="#0e726a"/><stop offset="0.9" stop-color="#0e726a"/><stop offset="0.9" stop-color="#015b52"/><stop offset="0.95" stop-color="#015b52"/><stop offset="0.95" stop-color="#00463b"/><stop offset="1" stop-color="#00463b"/></linearGradient>
<path d="M347.55 250.6L337.05 256.75L347.55 262.9Z" fill="#543005"/>
<path d="M483.95 250.6L494.45 256.75L483.95 262.9Z" fill="#003c30"/>
<rect x="347.25" y="250.6" width="137" height="12.3" fill="url(#cbg2)"/>
<path d="M347.25 250.6L484.25 250.6L494.45 256.75L484.25 262.9L347.25 262.9L337.05 256.75Z" fill="none" stroke="#222" stroke-width="0.6"/>
<path d="M348.96 262.9v1.8M354.1 262.9v1.8M359.24 262.9v1.8M364.38 262.9v1.8M369.51 262.9v1.8M374.65 262.9v1.8M379.79 262.9v1.8M384.93 262.9v1.8M390.06 262.9v1.8M395.2 262.9v1.8M400.34 262.9v1.8M405.48 262.9v1.8M410.61 262.9v1.8M415.75 262.9v1.8M420.89 262.9v1.8M426.02 262.9v1.8M431.16 262.9v1.8M436.3 262.9v1.8M441.44 262.9v1.8M446.57 262.9v1.8M451.71 262.9v1.8M456.85 262.9v1.8M461.99 262.9v1.8M467.12 262.9v1.8M472.26 262.9v1.8M477.4 262.9v1.8M482.54 262.9v1.8M354.1 262.9v3.2M374.65 262.9v3.2M395.2 262.9v3.2M415.75 262.9v3.2M436.3 262.9v3.2M456.85 262.9v3.2M477.4 262.9v3.2" stroke="#222" stroke-width="0.6" fill="none"/>
<text x="354.1" y="274.9" class="tl">−2.7</text>
<text x="374.65" y="274.9" class="tl">−1.8</text>
<text x="395.2" y="274.9" class="tl">−0.9</text>
<text x="415.75" y="274.9" class="tl">0</text>
<text x="436.3" y="274.9" class="tl">0.9</text>
<text x="456.85" y="274.9" class="tl">1.8</text>
<text x="477.4" y="274.9" class="tl">2.7</text>
<text x="415.75" y="285.6" class="tl">Precipitation (mm/day)</text>
</svg></body></html>
